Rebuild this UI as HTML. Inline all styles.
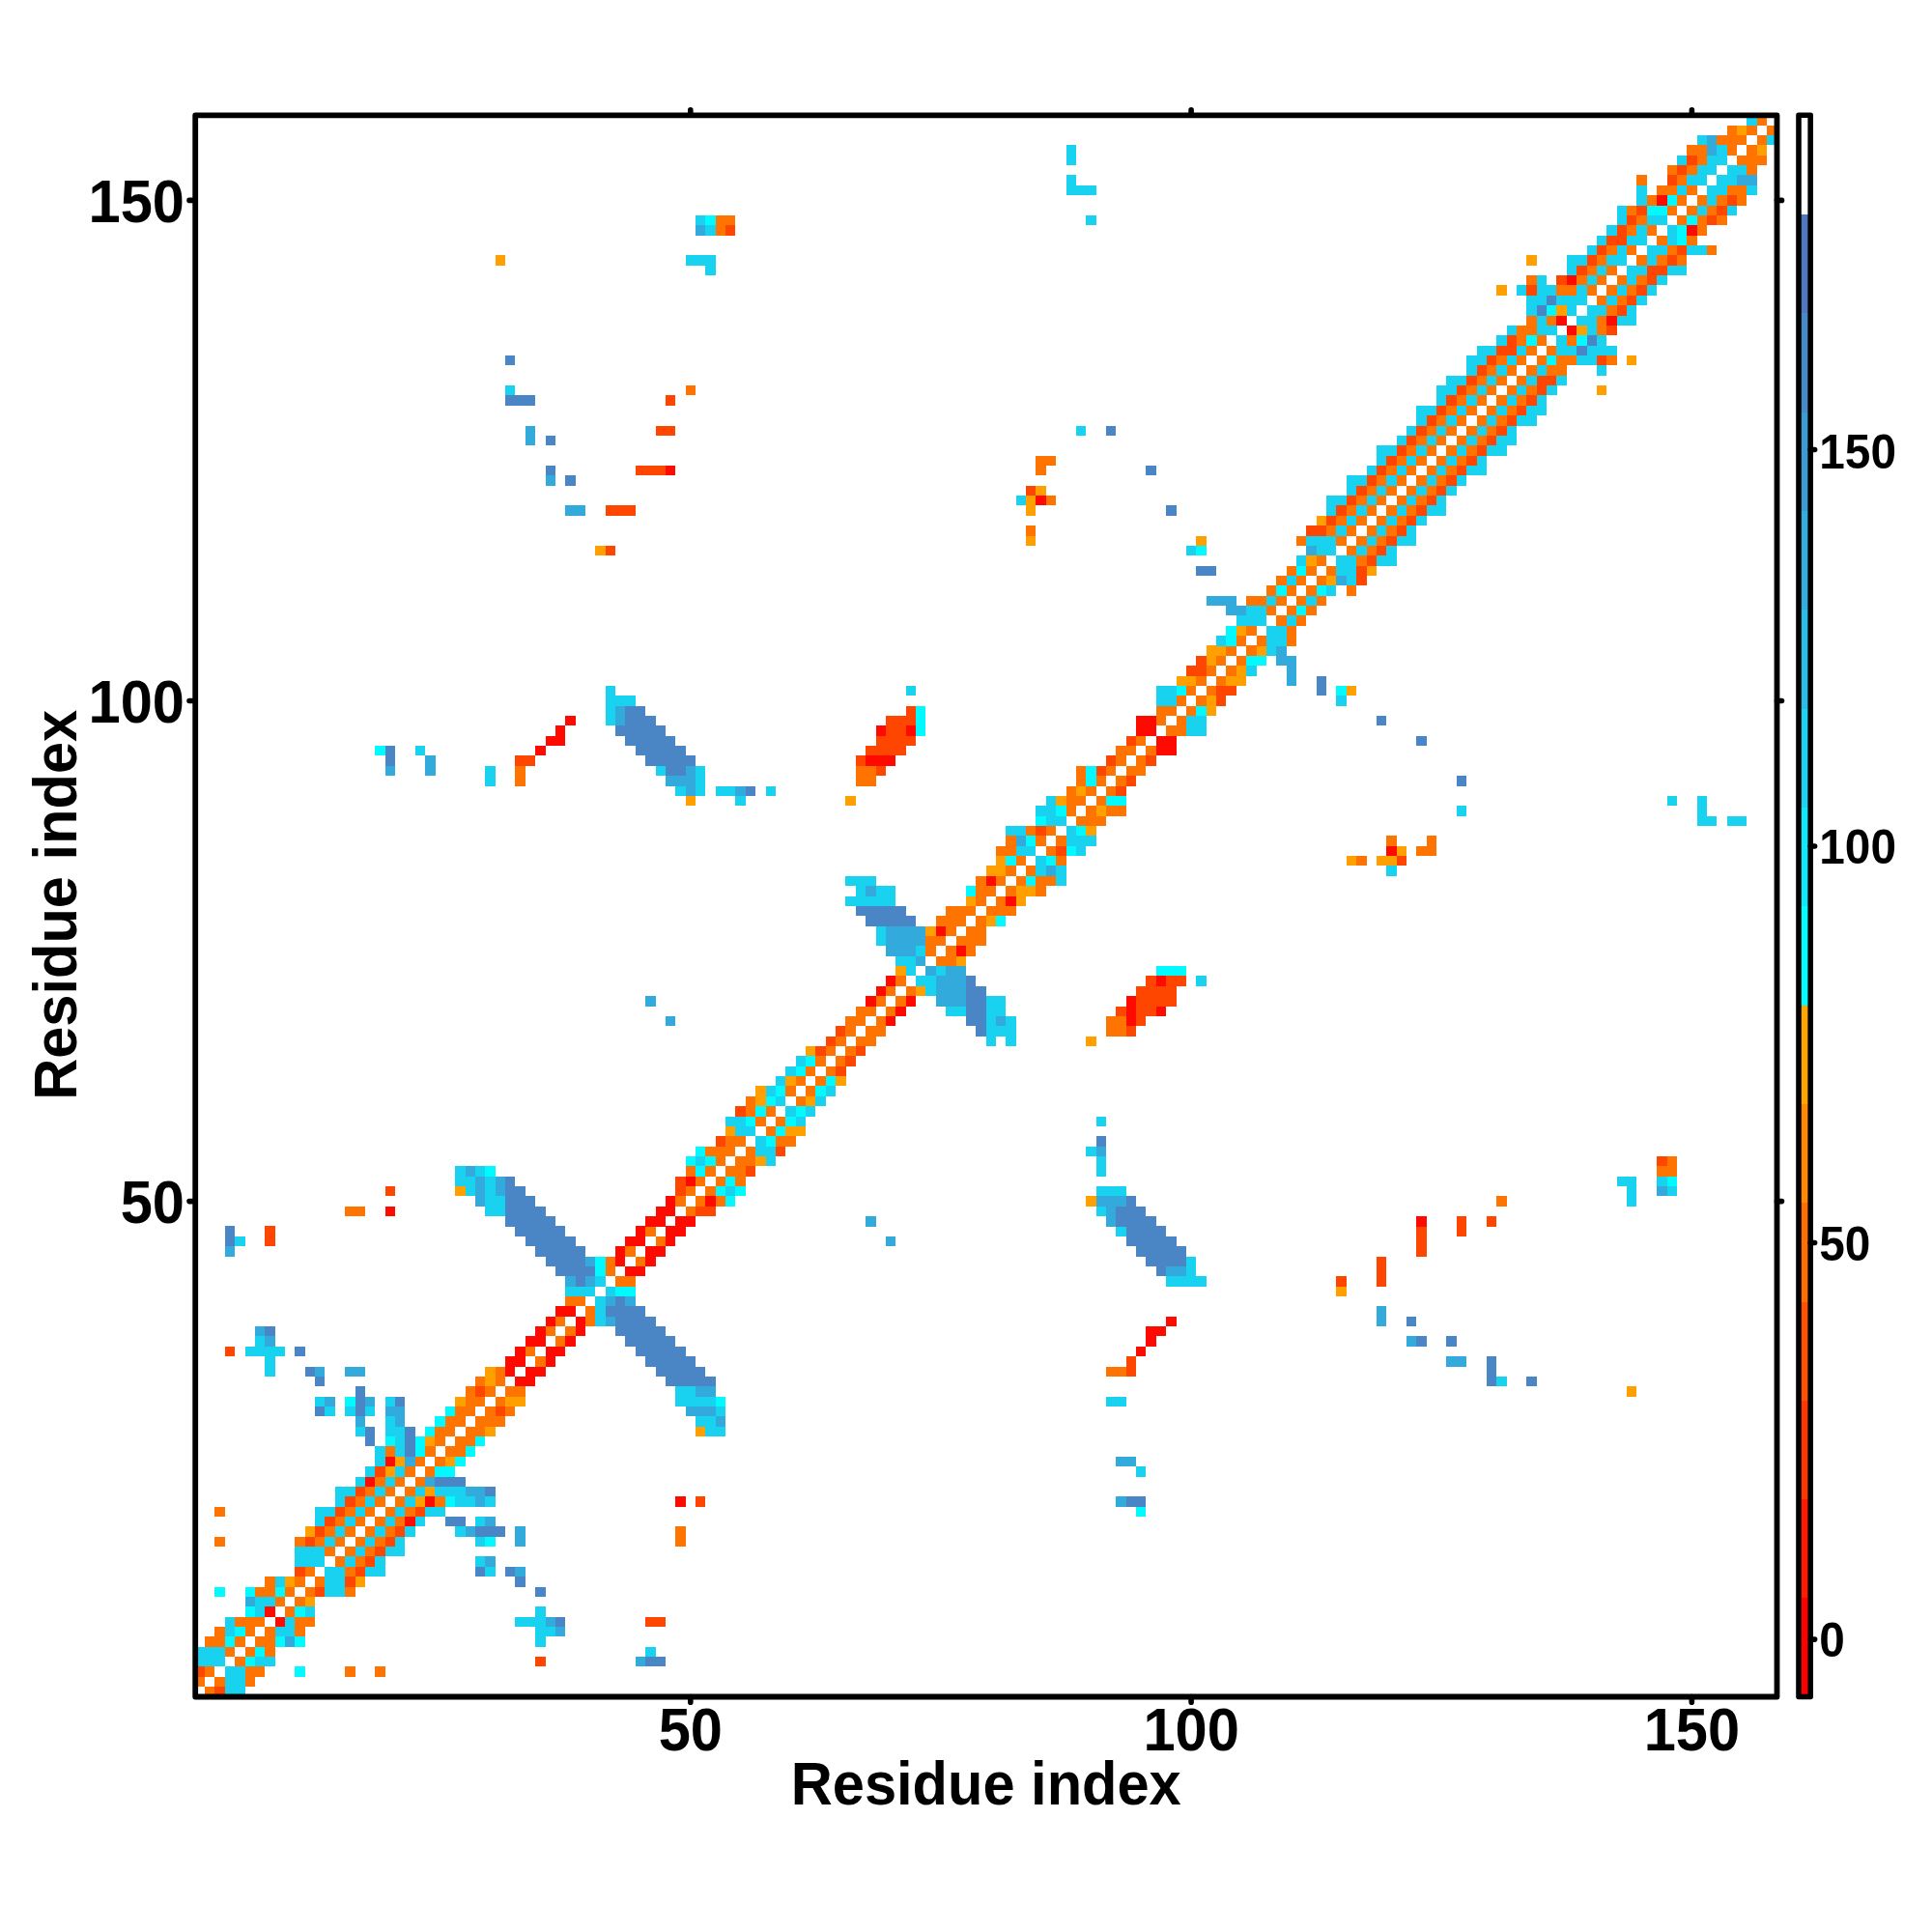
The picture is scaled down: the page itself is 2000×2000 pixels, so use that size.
<!DOCTYPE html>
<html><head><meta charset="utf-8"><style>
html,body{margin:0;padding:0;background:#fff;width:2000px;height:2000px;overflow:hidden}
svg{display:block}
text{font-family:"Liberation Sans",sans-serif;font-weight:bold;fill:#000}
</style></head><body>
<svg width="2000" height="2000" viewBox="0 0 2000 2000" shape-rendering="crispEdges">
<rect x="0" y="0" width="2000" height="2000" fill="#fff"/>
<g>
<rect x="201.70" y="1735.78" width="10.39" height="10.38" fill="#ff7300"/>
<rect x="201.70" y="1725.41" width="10.39" height="10.38" fill="#ff4600"/>
<rect x="201.70" y="1715.05" width="10.39" height="10.38" fill="#19d2f0"/>
<rect x="201.70" y="1704.69" width="10.39" height="10.38" fill="#19d2f0"/>
<rect x="212.07" y="1746.14" width="10.39" height="10.38" fill="#ff7300"/>
<rect x="212.07" y="1725.41" width="10.39" height="10.38" fill="#ff7300"/>
<rect x="212.07" y="1715.05" width="10.39" height="10.38" fill="#19d2f0"/>
<rect x="212.07" y="1704.69" width="10.39" height="10.38" fill="#19d2f0"/>
<rect x="212.07" y="1694.33" width="10.39" height="10.38" fill="#ff7300"/>
<rect x="222.43" y="1746.14" width="10.39" height="10.38" fill="#ff4600"/>
<rect x="222.43" y="1735.78" width="10.39" height="10.38" fill="#ff7300"/>
<rect x="222.43" y="1715.05" width="10.39" height="10.38" fill="#19d2f0"/>
<rect x="222.43" y="1704.69" width="10.39" height="10.38" fill="#19d2f0"/>
<rect x="222.43" y="1694.33" width="10.39" height="10.38" fill="#ff7300"/>
<rect x="222.43" y="1683.97" width="10.39" height="10.38" fill="#ff7300"/>
<rect x="222.43" y="1642.52" width="10.39" height="10.38" fill="#00faff"/>
<rect x="222.43" y="1590.71" width="10.39" height="10.38" fill="#ff7300"/>
<rect x="222.43" y="1559.62" width="10.39" height="10.38" fill="#ff7300"/>
<rect x="232.80" y="1746.14" width="10.39" height="10.38" fill="#19d2f0"/>
<rect x="232.80" y="1735.78" width="10.39" height="10.38" fill="#19d2f0"/>
<rect x="232.80" y="1725.41" width="10.39" height="10.38" fill="#19d2f0"/>
<rect x="232.80" y="1704.69" width="10.39" height="10.38" fill="#ff7300"/>
<rect x="232.80" y="1694.33" width="10.39" height="10.38" fill="#00faff"/>
<rect x="232.80" y="1683.97" width="10.39" height="10.38" fill="#19d2f0"/>
<rect x="232.80" y="1673.60" width="10.39" height="10.38" fill="#19d2f0"/>
<rect x="232.80" y="1393.83" width="10.39" height="10.38" fill="#ff4600"/>
<rect x="232.80" y="1290.21" width="10.39" height="10.38" fill="#32aadc"/>
<rect x="232.80" y="1279.85" width="10.39" height="10.38" fill="#4a86c6"/>
<rect x="232.80" y="1269.49" width="10.39" height="10.38" fill="#4a86c6"/>
<rect x="243.16" y="1746.14" width="10.39" height="10.38" fill="#19d2f0"/>
<rect x="243.16" y="1735.78" width="10.39" height="10.38" fill="#19d2f0"/>
<rect x="243.16" y="1725.41" width="10.39" height="10.38" fill="#19d2f0"/>
<rect x="243.16" y="1715.05" width="10.39" height="10.38" fill="#ff7300"/>
<rect x="243.16" y="1694.33" width="10.39" height="10.38" fill="#ff7300"/>
<rect x="243.16" y="1683.97" width="10.39" height="10.38" fill="#00faff"/>
<rect x="243.16" y="1673.60" width="10.39" height="10.38" fill="#ff7300"/>
<rect x="243.16" y="1279.85" width="10.39" height="10.38" fill="#19d2f0"/>
<rect x="253.53" y="1735.78" width="10.39" height="10.38" fill="#ff7300"/>
<rect x="253.53" y="1725.41" width="10.39" height="10.38" fill="#ff7300"/>
<rect x="253.53" y="1715.05" width="10.39" height="10.38" fill="#00faff"/>
<rect x="253.53" y="1704.69" width="10.39" height="10.38" fill="#ff7300"/>
<rect x="253.53" y="1683.97" width="10.39" height="10.38" fill="#ff7300"/>
<rect x="253.53" y="1673.60" width="10.39" height="10.38" fill="#ff7300"/>
<rect x="253.53" y="1663.24" width="10.39" height="10.38" fill="#00faff"/>
<rect x="253.53" y="1652.88" width="10.39" height="10.38" fill="#32aadc"/>
<rect x="253.53" y="1642.52" width="10.39" height="10.38" fill="#00faff"/>
<rect x="253.53" y="1393.83" width="10.39" height="10.38" fill="#19d2f0"/>
<rect x="263.90" y="1725.41" width="10.39" height="10.38" fill="#ff7300"/>
<rect x="263.90" y="1715.05" width="10.39" height="10.38" fill="#19d2f0"/>
<rect x="263.90" y="1704.69" width="10.39" height="10.38" fill="#00faff"/>
<rect x="263.90" y="1694.33" width="10.39" height="10.38" fill="#ff7300"/>
<rect x="263.90" y="1673.60" width="10.39" height="10.38" fill="#ff7300"/>
<rect x="263.90" y="1663.24" width="10.39" height="10.38" fill="#19d2f0"/>
<rect x="263.90" y="1652.88" width="10.39" height="10.38" fill="#19d2f0"/>
<rect x="263.90" y="1642.52" width="10.39" height="10.38" fill="#ff7300"/>
<rect x="263.90" y="1393.83" width="10.39" height="10.38" fill="#19d2f0"/>
<rect x="263.90" y="1383.47" width="10.39" height="10.38" fill="#19d2f0"/>
<rect x="263.90" y="1373.11" width="10.39" height="10.38" fill="#32aadc"/>
<rect x="274.26" y="1715.05" width="10.39" height="10.38" fill="#19d2f0"/>
<rect x="274.26" y="1704.69" width="10.39" height="10.38" fill="#ff7300"/>
<rect x="274.26" y="1694.33" width="10.39" height="10.38" fill="#ff7300"/>
<rect x="274.26" y="1683.97" width="10.39" height="10.38" fill="#ff7300"/>
<rect x="274.26" y="1663.24" width="10.39" height="10.38" fill="#ff0a00"/>
<rect x="274.26" y="1652.88" width="10.39" height="10.38" fill="#19d2f0"/>
<rect x="274.26" y="1642.52" width="10.39" height="10.38" fill="#ff7300"/>
<rect x="274.26" y="1632.16" width="10.39" height="10.38" fill="#ff7300"/>
<rect x="274.26" y="1414.55" width="10.39" height="10.38" fill="#19d2f0"/>
<rect x="274.26" y="1404.19" width="10.39" height="10.38" fill="#19d2f0"/>
<rect x="274.26" y="1393.83" width="10.39" height="10.38" fill="#19d2f0"/>
<rect x="274.26" y="1383.47" width="10.39" height="10.38" fill="#32aadc"/>
<rect x="274.26" y="1373.11" width="10.39" height="10.38" fill="#4a86c6"/>
<rect x="274.26" y="1279.85" width="10.39" height="10.38" fill="#ff4600"/>
<rect x="274.26" y="1269.49" width="10.39" height="10.38" fill="#ff4600"/>
<rect x="284.63" y="1694.33" width="10.39" height="10.38" fill="#00faff"/>
<rect x="284.63" y="1683.97" width="10.39" height="10.38" fill="#19d2f0"/>
<rect x="284.63" y="1673.60" width="10.39" height="10.38" fill="#ff0a00"/>
<rect x="284.63" y="1652.88" width="10.39" height="10.38" fill="#ff7300"/>
<rect x="284.63" y="1642.52" width="10.39" height="10.38" fill="#00faff"/>
<rect x="284.63" y="1632.16" width="10.39" height="10.38" fill="#19d2f0"/>
<rect x="284.63" y="1393.83" width="10.39" height="10.38" fill="#19d2f0"/>
<rect x="294.99" y="1694.33" width="10.39" height="10.38" fill="#32aadc"/>
<rect x="294.99" y="1683.97" width="10.39" height="10.38" fill="#19d2f0"/>
<rect x="294.99" y="1673.60" width="10.39" height="10.38" fill="#19d2f0"/>
<rect x="294.99" y="1663.24" width="10.39" height="10.38" fill="#ff7300"/>
<rect x="294.99" y="1642.52" width="10.39" height="10.38" fill="#ff7300"/>
<rect x="294.99" y="1632.16" width="10.39" height="10.38" fill="#ffa000"/>
<rect x="305.36" y="1725.41" width="10.39" height="10.38" fill="#00faff"/>
<rect x="305.36" y="1694.33" width="10.39" height="10.38" fill="#00faff"/>
<rect x="305.36" y="1683.97" width="10.39" height="10.38" fill="#ff7300"/>
<rect x="305.36" y="1673.60" width="10.39" height="10.38" fill="#ff7300"/>
<rect x="305.36" y="1663.24" width="10.39" height="10.38" fill="#00faff"/>
<rect x="305.36" y="1652.88" width="10.39" height="10.38" fill="#ff7300"/>
<rect x="305.36" y="1632.16" width="10.39" height="10.38" fill="#ff7300"/>
<rect x="305.36" y="1621.79" width="10.39" height="10.38" fill="#ff4600"/>
<rect x="305.36" y="1611.43" width="10.39" height="10.38" fill="#19d2f0"/>
<rect x="305.36" y="1601.07" width="10.39" height="10.38" fill="#19d2f0"/>
<rect x="305.36" y="1590.71" width="10.39" height="10.38" fill="#ff7300"/>
<rect x="305.36" y="1393.83" width="10.39" height="10.38" fill="#4a86c6"/>
<rect x="315.73" y="1673.60" width="10.39" height="10.38" fill="#ff7300"/>
<rect x="315.73" y="1663.24" width="10.39" height="10.38" fill="#19d2f0"/>
<rect x="315.73" y="1652.88" width="10.39" height="10.38" fill="#ffa000"/>
<rect x="315.73" y="1642.52" width="10.39" height="10.38" fill="#ff7300"/>
<rect x="315.73" y="1621.79" width="10.39" height="10.38" fill="#ff7300"/>
<rect x="315.73" y="1611.43" width="10.39" height="10.38" fill="#19d2f0"/>
<rect x="315.73" y="1601.07" width="10.39" height="10.38" fill="#19d2f0"/>
<rect x="315.73" y="1590.71" width="10.39" height="10.38" fill="#ff4600"/>
<rect x="315.73" y="1580.35" width="10.39" height="10.38" fill="#ffa000"/>
<rect x="315.73" y="1414.55" width="10.39" height="10.38" fill="#4a86c6"/>
<rect x="326.09" y="1642.52" width="10.39" height="10.38" fill="#ff4600"/>
<rect x="326.09" y="1632.16" width="10.39" height="10.38" fill="#ff7300"/>
<rect x="326.09" y="1611.43" width="10.39" height="10.38" fill="#19d2f0"/>
<rect x="326.09" y="1601.07" width="10.39" height="10.38" fill="#19d2f0"/>
<rect x="326.09" y="1590.71" width="10.39" height="10.38" fill="#ff7300"/>
<rect x="326.09" y="1580.35" width="10.39" height="10.38" fill="#ff4600"/>
<rect x="326.09" y="1569.98" width="10.39" height="10.38" fill="#19d2f0"/>
<rect x="326.09" y="1559.62" width="10.39" height="10.38" fill="#19d2f0"/>
<rect x="326.09" y="1456.00" width="10.39" height="10.38" fill="#4a86c6"/>
<rect x="326.09" y="1445.64" width="10.39" height="10.38" fill="#19d2f0"/>
<rect x="326.09" y="1424.92" width="10.39" height="10.38" fill="#4a86c6"/>
<rect x="326.09" y="1414.55" width="10.39" height="10.38" fill="#32aadc"/>
<rect x="336.46" y="1642.52" width="10.39" height="10.38" fill="#19d2f0"/>
<rect x="336.46" y="1632.16" width="10.39" height="10.38" fill="#19d2f0"/>
<rect x="336.46" y="1621.79" width="10.39" height="10.38" fill="#19d2f0"/>
<rect x="336.46" y="1601.07" width="10.39" height="10.38" fill="#ff7300"/>
<rect x="336.46" y="1590.71" width="10.39" height="10.38" fill="#19d2f0"/>
<rect x="336.46" y="1580.35" width="10.39" height="10.38" fill="#ff7300"/>
<rect x="336.46" y="1569.98" width="10.39" height="10.38" fill="#ff4600"/>
<rect x="336.46" y="1559.62" width="10.39" height="10.38" fill="#19d2f0"/>
<rect x="336.46" y="1456.00" width="10.39" height="10.38" fill="#19d2f0"/>
<rect x="336.46" y="1445.64" width="10.39" height="10.38" fill="#32aadc"/>
<rect x="346.82" y="1642.52" width="10.39" height="10.38" fill="#19d2f0"/>
<rect x="346.82" y="1632.16" width="10.39" height="10.38" fill="#19d2f0"/>
<rect x="346.82" y="1621.79" width="10.39" height="10.38" fill="#19d2f0"/>
<rect x="346.82" y="1611.43" width="10.39" height="10.38" fill="#ff7300"/>
<rect x="346.82" y="1590.71" width="10.39" height="10.38" fill="#ff7300"/>
<rect x="346.82" y="1580.35" width="10.39" height="10.38" fill="#19d2f0"/>
<rect x="346.82" y="1569.98" width="10.39" height="10.38" fill="#ff7300"/>
<rect x="346.82" y="1559.62" width="10.39" height="10.38" fill="#ff4600"/>
<rect x="346.82" y="1549.26" width="10.39" height="10.38" fill="#19d2f0"/>
<rect x="346.82" y="1538.90" width="10.39" height="10.38" fill="#19d2f0"/>
<rect x="357.19" y="1725.41" width="10.39" height="10.38" fill="#ff7300"/>
<rect x="357.19" y="1642.52" width="10.39" height="10.38" fill="#ff7300"/>
<rect x="357.19" y="1632.16" width="10.39" height="10.38" fill="#ff4600"/>
<rect x="357.19" y="1621.79" width="10.39" height="10.38" fill="#ff7300"/>
<rect x="357.19" y="1611.43" width="10.39" height="10.38" fill="#19d2f0"/>
<rect x="357.19" y="1601.07" width="10.39" height="10.38" fill="#ff7300"/>
<rect x="357.19" y="1580.35" width="10.39" height="10.38" fill="#ff7300"/>
<rect x="357.19" y="1569.98" width="10.39" height="10.38" fill="#19d2f0"/>
<rect x="357.19" y="1559.62" width="10.39" height="10.38" fill="#ff7300"/>
<rect x="357.19" y="1549.26" width="10.39" height="10.38" fill="#ff4600"/>
<rect x="357.19" y="1538.90" width="10.39" height="10.38" fill="#19d2f0"/>
<rect x="357.19" y="1456.00" width="10.39" height="10.38" fill="#19d2f0"/>
<rect x="357.19" y="1445.64" width="10.39" height="10.38" fill="#00faff"/>
<rect x="357.19" y="1414.55" width="10.39" height="10.38" fill="#32aadc"/>
<rect x="357.19" y="1248.76" width="10.39" height="10.38" fill="#ff7300"/>
<rect x="367.56" y="1632.16" width="10.39" height="10.38" fill="#ffa000"/>
<rect x="367.56" y="1621.79" width="10.39" height="10.38" fill="#ff4600"/>
<rect x="367.56" y="1611.43" width="10.39" height="10.38" fill="#ff7300"/>
<rect x="367.56" y="1601.07" width="10.39" height="10.38" fill="#19d2f0"/>
<rect x="367.56" y="1590.71" width="10.39" height="10.38" fill="#ff7300"/>
<rect x="367.56" y="1569.98" width="10.39" height="10.38" fill="#ff7300"/>
<rect x="367.56" y="1559.62" width="10.39" height="10.38" fill="#19d2f0"/>
<rect x="367.56" y="1549.26" width="10.39" height="10.38" fill="#ff7300"/>
<rect x="367.56" y="1538.90" width="10.39" height="10.38" fill="#ff4600"/>
<rect x="367.56" y="1528.54" width="10.39" height="10.38" fill="#19d2f0"/>
<rect x="367.56" y="1476.73" width="10.39" height="10.38" fill="#19d2f0"/>
<rect x="367.56" y="1466.36" width="10.39" height="10.38" fill="#32aadc"/>
<rect x="367.56" y="1456.00" width="10.39" height="10.38" fill="#4a86c6"/>
<rect x="367.56" y="1445.64" width="10.39" height="10.38" fill="#4a86c6"/>
<rect x="367.56" y="1435.28" width="10.39" height="10.38" fill="#4a86c6"/>
<rect x="367.56" y="1414.55" width="10.39" height="10.38" fill="#32aadc"/>
<rect x="367.56" y="1248.76" width="10.39" height="10.38" fill="#ff7300"/>
<rect x="377.92" y="1621.79" width="10.39" height="10.38" fill="#19d2f0"/>
<rect x="377.92" y="1611.43" width="10.39" height="10.38" fill="#ff4600"/>
<rect x="377.92" y="1601.07" width="10.39" height="10.38" fill="#ff7300"/>
<rect x="377.92" y="1590.71" width="10.39" height="10.38" fill="#19d2f0"/>
<rect x="377.92" y="1580.35" width="10.39" height="10.38" fill="#ff7300"/>
<rect x="377.92" y="1559.62" width="10.39" height="10.38" fill="#ff7300"/>
<rect x="377.92" y="1549.26" width="10.39" height="10.38" fill="#19d2f0"/>
<rect x="377.92" y="1538.90" width="10.39" height="10.38" fill="#ff7300"/>
<rect x="377.92" y="1528.54" width="10.39" height="10.38" fill="#ff0a00"/>
<rect x="377.92" y="1518.17" width="10.39" height="10.38" fill="#19d2f0"/>
<rect x="377.92" y="1487.09" width="10.39" height="10.38" fill="#4a86c6"/>
<rect x="377.92" y="1476.73" width="10.39" height="10.38" fill="#4a86c6"/>
<rect x="377.92" y="1456.00" width="10.39" height="10.38" fill="#19d2f0"/>
<rect x="377.92" y="1445.64" width="10.39" height="10.38" fill="#32aadc"/>
<rect x="388.29" y="1725.41" width="10.39" height="10.38" fill="#ff7300"/>
<rect x="388.29" y="1621.79" width="10.39" height="10.38" fill="#19d2f0"/>
<rect x="388.29" y="1611.43" width="10.39" height="10.38" fill="#19d2f0"/>
<rect x="388.29" y="1601.07" width="10.39" height="10.38" fill="#ff4600"/>
<rect x="388.29" y="1590.71" width="10.39" height="10.38" fill="#ff7300"/>
<rect x="388.29" y="1580.35" width="10.39" height="10.38" fill="#19d2f0"/>
<rect x="388.29" y="1569.98" width="10.39" height="10.38" fill="#ff7300"/>
<rect x="388.29" y="1549.26" width="10.39" height="10.38" fill="#ff7300"/>
<rect x="388.29" y="1538.90" width="10.39" height="10.38" fill="#19d2f0"/>
<rect x="388.29" y="1528.54" width="10.39" height="10.38" fill="#ff7300"/>
<rect x="388.29" y="1518.17" width="10.39" height="10.38" fill="#ff4600"/>
<rect x="388.29" y="1507.81" width="10.39" height="10.38" fill="#19d2f0"/>
<rect x="388.29" y="1497.45" width="10.39" height="10.38" fill="#19d2f0"/>
<rect x="388.29" y="772.11" width="10.39" height="10.38" fill="#00faff"/>
<rect x="398.65" y="1601.07" width="10.39" height="10.38" fill="#19d2f0"/>
<rect x="398.65" y="1590.71" width="10.39" height="10.38" fill="#ff4600"/>
<rect x="398.65" y="1580.35" width="10.39" height="10.38" fill="#ff7300"/>
<rect x="398.65" y="1569.98" width="10.39" height="10.38" fill="#19d2f0"/>
<rect x="398.65" y="1559.62" width="10.39" height="10.38" fill="#ff7300"/>
<rect x="398.65" y="1538.90" width="10.39" height="10.38" fill="#ff7300"/>
<rect x="398.65" y="1528.54" width="10.39" height="10.38" fill="#19d2f0"/>
<rect x="398.65" y="1518.17" width="10.39" height="10.38" fill="#ffa000"/>
<rect x="398.65" y="1507.81" width="10.39" height="10.38" fill="#ff0a00"/>
<rect x="398.65" y="1497.45" width="10.39" height="10.38" fill="#ff7300"/>
<rect x="398.65" y="1487.09" width="10.39" height="10.38" fill="#00faff"/>
<rect x="398.65" y="1476.73" width="10.39" height="10.38" fill="#19d2f0"/>
<rect x="398.65" y="1466.36" width="10.39" height="10.38" fill="#19d2f0"/>
<rect x="398.65" y="1456.00" width="10.39" height="10.38" fill="#32aadc"/>
<rect x="398.65" y="1445.64" width="10.39" height="10.38" fill="#19d2f0"/>
<rect x="398.65" y="1248.76" width="10.39" height="10.38" fill="#ff0a00"/>
<rect x="398.65" y="1228.04" width="10.39" height="10.38" fill="#ff4600"/>
<rect x="398.65" y="792.83" width="10.39" height="10.38" fill="#32aadc"/>
<rect x="398.65" y="782.47" width="10.39" height="10.38" fill="#4a86c6"/>
<rect x="398.65" y="772.11" width="10.39" height="10.38" fill="#4a86c6"/>
<rect x="409.02" y="1601.07" width="10.39" height="10.38" fill="#19d2f0"/>
<rect x="409.02" y="1590.71" width="10.39" height="10.38" fill="#19d2f0"/>
<rect x="409.02" y="1580.35" width="10.39" height="10.38" fill="#ff4600"/>
<rect x="409.02" y="1569.98" width="10.39" height="10.38" fill="#ff7300"/>
<rect x="409.02" y="1559.62" width="10.39" height="10.38" fill="#19d2f0"/>
<rect x="409.02" y="1549.26" width="10.39" height="10.38" fill="#ff7300"/>
<rect x="409.02" y="1528.54" width="10.39" height="10.38" fill="#ff7300"/>
<rect x="409.02" y="1518.17" width="10.39" height="10.38" fill="#19d2f0"/>
<rect x="409.02" y="1507.81" width="10.39" height="10.38" fill="#ffa000"/>
<rect x="409.02" y="1497.45" width="10.39" height="10.38" fill="#19d2f0"/>
<rect x="409.02" y="1487.09" width="10.39" height="10.38" fill="#19d2f0"/>
<rect x="409.02" y="1476.73" width="10.39" height="10.38" fill="#19d2f0"/>
<rect x="409.02" y="1466.36" width="10.39" height="10.38" fill="#32aadc"/>
<rect x="409.02" y="1456.00" width="10.39" height="10.38" fill="#32aadc"/>
<rect x="409.02" y="1445.64" width="10.39" height="10.38" fill="#4a86c6"/>
<rect x="419.39" y="1580.35" width="10.39" height="10.38" fill="#19d2f0"/>
<rect x="419.39" y="1569.98" width="10.39" height="10.38" fill="#ff0a00"/>
<rect x="419.39" y="1559.62" width="10.39" height="10.38" fill="#ff7300"/>
<rect x="419.39" y="1549.26" width="10.39" height="10.38" fill="#19d2f0"/>
<rect x="419.39" y="1538.90" width="10.39" height="10.38" fill="#ff7300"/>
<rect x="419.39" y="1518.17" width="10.39" height="10.38" fill="#ff7300"/>
<rect x="419.39" y="1507.81" width="10.39" height="10.38" fill="#32aadc"/>
<rect x="419.39" y="1497.45" width="10.39" height="10.38" fill="#4a86c6"/>
<rect x="419.39" y="1487.09" width="10.39" height="10.38" fill="#4a86c6"/>
<rect x="419.39" y="1476.73" width="10.39" height="10.38" fill="#4a86c6"/>
<rect x="429.75" y="1569.98" width="10.39" height="10.38" fill="#19d2f0"/>
<rect x="429.75" y="1559.62" width="10.39" height="10.38" fill="#ff4600"/>
<rect x="429.75" y="1549.26" width="10.39" height="10.38" fill="#ffa000"/>
<rect x="429.75" y="1538.90" width="10.39" height="10.38" fill="#19d2f0"/>
<rect x="429.75" y="1528.54" width="10.39" height="10.38" fill="#ff7300"/>
<rect x="429.75" y="1507.81" width="10.39" height="10.38" fill="#ff7300"/>
<rect x="429.75" y="1497.45" width="10.39" height="10.38" fill="#00faff"/>
<rect x="429.75" y="1487.09" width="10.39" height="10.38" fill="#00faff"/>
<rect x="429.75" y="772.11" width="10.39" height="10.38" fill="#19d2f0"/>
<rect x="440.12" y="1559.62" width="10.39" height="10.38" fill="#19d2f0"/>
<rect x="440.12" y="1549.26" width="10.39" height="10.38" fill="#ff0a00"/>
<rect x="440.12" y="1538.90" width="10.39" height="10.38" fill="#ffa000"/>
<rect x="440.12" y="1528.54" width="10.39" height="10.38" fill="#32aadc"/>
<rect x="440.12" y="1518.17" width="10.39" height="10.38" fill="#ff7300"/>
<rect x="440.12" y="1497.45" width="10.39" height="10.38" fill="#ff7300"/>
<rect x="440.12" y="1487.09" width="10.39" height="10.38" fill="#ffa000"/>
<rect x="440.12" y="1476.73" width="10.39" height="10.38" fill="#00faff"/>
<rect x="440.12" y="792.83" width="10.39" height="10.38" fill="#32aadc"/>
<rect x="440.12" y="782.47" width="10.39" height="10.38" fill="#32aadc"/>
<rect x="450.48" y="1559.62" width="10.39" height="10.38" fill="#19d2f0"/>
<rect x="450.48" y="1549.26" width="10.39" height="10.38" fill="#ff7300"/>
<rect x="450.48" y="1538.90" width="10.39" height="10.38" fill="#19d2f0"/>
<rect x="450.48" y="1528.54" width="10.39" height="10.38" fill="#4a86c6"/>
<rect x="450.48" y="1518.17" width="10.39" height="10.38" fill="#00faff"/>
<rect x="450.48" y="1507.81" width="10.39" height="10.38" fill="#ff7300"/>
<rect x="450.48" y="1487.09" width="10.39" height="10.38" fill="#ff7300"/>
<rect x="450.48" y="1476.73" width="10.39" height="10.38" fill="#ff7300"/>
<rect x="450.48" y="1466.36" width="10.39" height="10.38" fill="#00faff"/>
<rect x="460.85" y="1569.98" width="10.39" height="10.38" fill="#4a86c6"/>
<rect x="460.85" y="1549.26" width="10.39" height="10.38" fill="#00faff"/>
<rect x="460.85" y="1538.90" width="10.39" height="10.38" fill="#19d2f0"/>
<rect x="460.85" y="1528.54" width="10.39" height="10.38" fill="#4a86c6"/>
<rect x="460.85" y="1518.17" width="10.39" height="10.38" fill="#00faff"/>
<rect x="460.85" y="1507.81" width="10.39" height="10.38" fill="#ffa000"/>
<rect x="460.85" y="1497.45" width="10.39" height="10.38" fill="#ff7300"/>
<rect x="460.85" y="1476.73" width="10.39" height="10.38" fill="#ff7300"/>
<rect x="460.85" y="1466.36" width="10.39" height="10.38" fill="#ff7300"/>
<rect x="460.85" y="1456.00" width="10.39" height="10.38" fill="#00faff"/>
<rect x="471.22" y="1580.35" width="10.39" height="10.38" fill="#19d2f0"/>
<rect x="471.22" y="1569.98" width="10.39" height="10.38" fill="#4a86c6"/>
<rect x="471.22" y="1549.26" width="10.39" height="10.38" fill="#19d2f0"/>
<rect x="471.22" y="1538.90" width="10.39" height="10.38" fill="#19d2f0"/>
<rect x="471.22" y="1528.54" width="10.39" height="10.38" fill="#4a86c6"/>
<rect x="471.22" y="1507.81" width="10.39" height="10.38" fill="#00faff"/>
<rect x="471.22" y="1497.45" width="10.39" height="10.38" fill="#ff7300"/>
<rect x="471.22" y="1487.09" width="10.39" height="10.38" fill="#ff7300"/>
<rect x="471.22" y="1466.36" width="10.39" height="10.38" fill="#ff7300"/>
<rect x="471.22" y="1456.00" width="10.39" height="10.38" fill="#ff7300"/>
<rect x="471.22" y="1445.64" width="10.39" height="10.38" fill="#ffa000"/>
<rect x="471.22" y="1228.04" width="10.39" height="10.38" fill="#ffa000"/>
<rect x="471.22" y="1217.68" width="10.39" height="10.38" fill="#19d2f0"/>
<rect x="471.22" y="1207.31" width="10.39" height="10.38" fill="#19d2f0"/>
<rect x="481.58" y="1580.35" width="10.39" height="10.38" fill="#32aadc"/>
<rect x="481.58" y="1549.26" width="10.39" height="10.38" fill="#19d2f0"/>
<rect x="481.58" y="1538.90" width="10.39" height="10.38" fill="#32aadc"/>
<rect x="481.58" y="1497.45" width="10.39" height="10.38" fill="#00faff"/>
<rect x="481.58" y="1487.09" width="10.39" height="10.38" fill="#ff7300"/>
<rect x="481.58" y="1476.73" width="10.39" height="10.38" fill="#ff7300"/>
<rect x="481.58" y="1456.00" width="10.39" height="10.38" fill="#ff7300"/>
<rect x="481.58" y="1445.64" width="10.39" height="10.38" fill="#ff7300"/>
<rect x="481.58" y="1435.28" width="10.39" height="10.38" fill="#ff7300"/>
<rect x="481.58" y="1228.04" width="10.39" height="10.38" fill="#19d2f0"/>
<rect x="481.58" y="1217.68" width="10.39" height="10.38" fill="#19d2f0"/>
<rect x="481.58" y="1207.31" width="10.39" height="10.38" fill="#32aadc"/>
<rect x="491.95" y="1621.79" width="10.39" height="10.38" fill="#4a86c6"/>
<rect x="491.95" y="1611.43" width="10.39" height="10.38" fill="#19d2f0"/>
<rect x="491.95" y="1590.71" width="10.39" height="10.38" fill="#19d2f0"/>
<rect x="491.95" y="1580.35" width="10.39" height="10.38" fill="#4a86c6"/>
<rect x="491.95" y="1569.98" width="10.39" height="10.38" fill="#19d2f0"/>
<rect x="491.95" y="1549.26" width="10.39" height="10.38" fill="#32aadc"/>
<rect x="491.95" y="1538.90" width="10.39" height="10.38" fill="#32aadc"/>
<rect x="491.95" y="1487.09" width="10.39" height="10.38" fill="#00faff"/>
<rect x="491.95" y="1476.73" width="10.39" height="10.38" fill="#ff7300"/>
<rect x="491.95" y="1466.36" width="10.39" height="10.38" fill="#ff7300"/>
<rect x="491.95" y="1445.64" width="10.39" height="10.38" fill="#ff7300"/>
<rect x="491.95" y="1435.28" width="10.39" height="10.38" fill="#ff4600"/>
<rect x="491.95" y="1424.92" width="10.39" height="10.38" fill="#ff7300"/>
<rect x="491.95" y="1238.40" width="10.39" height="10.38" fill="#32aadc"/>
<rect x="491.95" y="1228.04" width="10.39" height="10.38" fill="#32aadc"/>
<rect x="491.95" y="1217.68" width="10.39" height="10.38" fill="#32aadc"/>
<rect x="491.95" y="1207.31" width="10.39" height="10.38" fill="#19d2f0"/>
<rect x="502.31" y="1621.79" width="10.39" height="10.38" fill="#19d2f0"/>
<rect x="502.31" y="1611.43" width="10.39" height="10.38" fill="#32aadc"/>
<rect x="502.31" y="1590.71" width="10.39" height="10.38" fill="#00faff"/>
<rect x="502.31" y="1580.35" width="10.39" height="10.38" fill="#4a86c6"/>
<rect x="502.31" y="1569.98" width="10.39" height="10.38" fill="#32aadc"/>
<rect x="502.31" y="1549.26" width="10.39" height="10.38" fill="#19d2f0"/>
<rect x="502.31" y="1538.90" width="10.39" height="10.38" fill="#4a86c6"/>
<rect x="502.31" y="1476.73" width="10.39" height="10.38" fill="#ffa000"/>
<rect x="502.31" y="1466.36" width="10.39" height="10.38" fill="#ff7300"/>
<rect x="502.31" y="1456.00" width="10.39" height="10.38" fill="#ff7300"/>
<rect x="502.31" y="1435.28" width="10.39" height="10.38" fill="#ff7300"/>
<rect x="502.31" y="1424.92" width="10.39" height="10.38" fill="#ffa000"/>
<rect x="502.31" y="1414.55" width="10.39" height="10.38" fill="#ffa000"/>
<rect x="502.31" y="1248.76" width="10.39" height="10.38" fill="#19d2f0"/>
<rect x="502.31" y="1238.40" width="10.39" height="10.38" fill="#19d2f0"/>
<rect x="502.31" y="1228.04" width="10.39" height="10.38" fill="#19d2f0"/>
<rect x="502.31" y="1217.68" width="10.39" height="10.38" fill="#19d2f0"/>
<rect x="502.31" y="1207.31" width="10.39" height="10.38" fill="#00faff"/>
<rect x="502.31" y="803.20" width="10.39" height="10.38" fill="#19d2f0"/>
<rect x="502.31" y="792.83" width="10.39" height="10.38" fill="#19d2f0"/>
<rect x="512.68" y="1580.35" width="10.39" height="10.38" fill="#4a86c6"/>
<rect x="512.68" y="1466.36" width="10.39" height="10.38" fill="#ff7300"/>
<rect x="512.68" y="1456.00" width="10.39" height="10.38" fill="#ff4600"/>
<rect x="512.68" y="1445.64" width="10.39" height="10.38" fill="#ff7300"/>
<rect x="512.68" y="1424.92" width="10.39" height="10.38" fill="#ff7300"/>
<rect x="512.68" y="1414.55" width="10.39" height="10.38" fill="#ff7300"/>
<rect x="512.68" y="1248.76" width="10.39" height="10.38" fill="#19d2f0"/>
<rect x="512.68" y="1238.40" width="10.39" height="10.38" fill="#19d2f0"/>
<rect x="512.68" y="1228.04" width="10.39" height="10.38" fill="#32aadc"/>
<rect x="512.68" y="1217.68" width="10.39" height="10.38" fill="#32aadc"/>
<rect x="512.68" y="264.37" width="10.39" height="10.38" fill="#ffa000"/>
<rect x="523.05" y="1621.79" width="10.39" height="10.38" fill="#4a86c6"/>
<rect x="523.05" y="1456.00" width="10.39" height="10.38" fill="#ff7300"/>
<rect x="523.05" y="1445.64" width="10.39" height="10.38" fill="#ffa000"/>
<rect x="523.05" y="1435.28" width="10.39" height="10.38" fill="#ff7300"/>
<rect x="523.05" y="1414.55" width="10.39" height="10.38" fill="#ff0a00"/>
<rect x="523.05" y="1404.19" width="10.39" height="10.38" fill="#ff0a00"/>
<rect x="523.05" y="1259.12" width="10.39" height="10.38" fill="#4a86c6"/>
<rect x="523.05" y="1248.76" width="10.39" height="10.38" fill="#4a86c6"/>
<rect x="523.05" y="1238.40" width="10.39" height="10.38" fill="#4a86c6"/>
<rect x="523.05" y="1228.04" width="10.39" height="10.38" fill="#4a86c6"/>
<rect x="523.05" y="1217.68" width="10.39" height="10.38" fill="#4a86c6"/>
<rect x="523.05" y="409.44" width="10.39" height="10.38" fill="#4a86c6"/>
<rect x="523.05" y="399.08" width="10.39" height="10.38" fill="#19d2f0"/>
<rect x="523.05" y="367.99" width="10.39" height="10.38" fill="#4a86c6"/>
<rect x="533.41" y="1673.60" width="10.39" height="10.38" fill="#19d2f0"/>
<rect x="533.41" y="1632.16" width="10.39" height="10.38" fill="#4a86c6"/>
<rect x="533.41" y="1621.79" width="10.39" height="10.38" fill="#32aadc"/>
<rect x="533.41" y="1590.71" width="10.39" height="10.38" fill="#32aadc"/>
<rect x="533.41" y="1580.35" width="10.39" height="10.38" fill="#32aadc"/>
<rect x="533.41" y="1445.64" width="10.39" height="10.38" fill="#ffa000"/>
<rect x="533.41" y="1435.28" width="10.39" height="10.38" fill="#ff7300"/>
<rect x="533.41" y="1424.92" width="10.39" height="10.38" fill="#ff0a00"/>
<rect x="533.41" y="1404.19" width="10.39" height="10.38" fill="#ff0a00"/>
<rect x="533.41" y="1393.83" width="10.39" height="10.38" fill="#ff0a00"/>
<rect x="533.41" y="1269.49" width="10.39" height="10.38" fill="#4a86c6"/>
<rect x="533.41" y="1259.12" width="10.39" height="10.38" fill="#4a86c6"/>
<rect x="533.41" y="1248.76" width="10.39" height="10.38" fill="#4a86c6"/>
<rect x="533.41" y="1238.40" width="10.39" height="10.38" fill="#4a86c6"/>
<rect x="533.41" y="1228.04" width="10.39" height="10.38" fill="#4a86c6"/>
<rect x="533.41" y="803.20" width="10.39" height="10.38" fill="#ff7300"/>
<rect x="533.41" y="792.83" width="10.39" height="10.38" fill="#ff7300"/>
<rect x="533.41" y="782.47" width="10.39" height="10.38" fill="#ff4600"/>
<rect x="533.41" y="409.44" width="10.39" height="10.38" fill="#4a86c6"/>
<rect x="543.78" y="1673.60" width="10.39" height="10.38" fill="#19d2f0"/>
<rect x="543.78" y="1424.92" width="10.39" height="10.38" fill="#ff0a00"/>
<rect x="543.78" y="1414.55" width="10.39" height="10.38" fill="#ff0a00"/>
<rect x="543.78" y="1393.83" width="10.39" height="10.38" fill="#ff7300"/>
<rect x="543.78" y="1383.47" width="10.39" height="10.38" fill="#ff0a00"/>
<rect x="543.78" y="1279.85" width="10.39" height="10.38" fill="#4a86c6"/>
<rect x="543.78" y="1269.49" width="10.39" height="10.38" fill="#4a86c6"/>
<rect x="543.78" y="1259.12" width="10.39" height="10.38" fill="#4a86c6"/>
<rect x="543.78" y="1248.76" width="10.39" height="10.38" fill="#4a86c6"/>
<rect x="543.78" y="1238.40" width="10.39" height="10.38" fill="#4a86c6"/>
<rect x="543.78" y="782.47" width="10.39" height="10.38" fill="#ff4600"/>
<rect x="543.78" y="450.89" width="10.39" height="10.38" fill="#32aadc"/>
<rect x="543.78" y="440.53" width="10.39" height="10.38" fill="#32aadc"/>
<rect x="543.78" y="409.44" width="10.39" height="10.38" fill="#4a86c6"/>
<rect x="554.14" y="1715.05" width="10.39" height="10.38" fill="#ff4600"/>
<rect x="554.14" y="1694.33" width="10.39" height="10.38" fill="#19d2f0"/>
<rect x="554.14" y="1683.97" width="10.39" height="10.38" fill="#19d2f0"/>
<rect x="554.14" y="1673.60" width="10.39" height="10.38" fill="#19d2f0"/>
<rect x="554.14" y="1663.24" width="10.39" height="10.38" fill="#19d2f0"/>
<rect x="554.14" y="1642.52" width="10.39" height="10.38" fill="#4a86c6"/>
<rect x="554.14" y="1414.55" width="10.39" height="10.38" fill="#ff0a00"/>
<rect x="554.14" y="1404.19" width="10.39" height="10.38" fill="#ff7300"/>
<rect x="554.14" y="1383.47" width="10.39" height="10.38" fill="#ff0a00"/>
<rect x="554.14" y="1373.11" width="10.39" height="10.38" fill="#ff0a00"/>
<rect x="554.14" y="1290.21" width="10.39" height="10.38" fill="#4a86c6"/>
<rect x="554.14" y="1279.85" width="10.39" height="10.38" fill="#4a86c6"/>
<rect x="554.14" y="1269.49" width="10.39" height="10.38" fill="#4a86c6"/>
<rect x="554.14" y="1259.12" width="10.39" height="10.38" fill="#4a86c6"/>
<rect x="554.14" y="1248.76" width="10.39" height="10.38" fill="#4a86c6"/>
<rect x="554.14" y="772.11" width="10.39" height="10.38" fill="#ff0a00"/>
<rect x="564.51" y="1683.97" width="10.39" height="10.38" fill="#19d2f0"/>
<rect x="564.51" y="1673.60" width="10.39" height="10.38" fill="#32aadc"/>
<rect x="564.51" y="1404.19" width="10.39" height="10.38" fill="#ff0a00"/>
<rect x="564.51" y="1393.83" width="10.39" height="10.38" fill="#ff0a00"/>
<rect x="564.51" y="1373.11" width="10.39" height="10.38" fill="#ff7300"/>
<rect x="564.51" y="1362.74" width="10.39" height="10.38" fill="#ff0a00"/>
<rect x="564.51" y="1300.57" width="10.39" height="10.38" fill="#4a86c6"/>
<rect x="564.51" y="1290.21" width="10.39" height="10.38" fill="#4a86c6"/>
<rect x="564.51" y="1279.85" width="10.39" height="10.38" fill="#4a86c6"/>
<rect x="564.51" y="1269.49" width="10.39" height="10.38" fill="#4a86c6"/>
<rect x="564.51" y="1259.12" width="10.39" height="10.38" fill="#4a86c6"/>
<rect x="564.51" y="761.75" width="10.39" height="10.38" fill="#ff0a00"/>
<rect x="564.51" y="492.34" width="10.39" height="10.38" fill="#32aadc"/>
<rect x="564.51" y="481.97" width="10.39" height="10.38" fill="#4a86c6"/>
<rect x="564.51" y="450.89" width="10.39" height="10.38" fill="#4a86c6"/>
<rect x="574.88" y="1683.97" width="10.39" height="10.38" fill="#32aadc"/>
<rect x="574.88" y="1673.60" width="10.39" height="10.38" fill="#4a86c6"/>
<rect x="574.88" y="1393.83" width="10.39" height="10.38" fill="#ff0a00"/>
<rect x="574.88" y="1383.47" width="10.39" height="10.38" fill="#ff7300"/>
<rect x="574.88" y="1362.74" width="10.39" height="10.38" fill="#ff7300"/>
<rect x="574.88" y="1352.38" width="10.39" height="10.38" fill="#ff0a00"/>
<rect x="574.88" y="1310.93" width="10.39" height="10.38" fill="#4a86c6"/>
<rect x="574.88" y="1300.57" width="10.39" height="10.38" fill="#4a86c6"/>
<rect x="574.88" y="1290.21" width="10.39" height="10.38" fill="#4a86c6"/>
<rect x="574.88" y="1279.85" width="10.39" height="10.38" fill="#4a86c6"/>
<rect x="574.88" y="1269.49" width="10.39" height="10.38" fill="#4a86c6"/>
<rect x="574.88" y="761.75" width="10.39" height="10.38" fill="#ff0a00"/>
<rect x="574.88" y="751.39" width="10.39" height="10.38" fill="#ff0a00"/>
<rect x="585.24" y="1383.47" width="10.39" height="10.38" fill="#ff0a00"/>
<rect x="585.24" y="1373.11" width="10.39" height="10.38" fill="#ff7300"/>
<rect x="585.24" y="1352.38" width="10.39" height="10.38" fill="#ff0a00"/>
<rect x="585.24" y="1342.02" width="10.39" height="10.38" fill="#ff7300"/>
<rect x="585.24" y="1331.66" width="10.39" height="10.38" fill="#19d2f0"/>
<rect x="585.24" y="1321.30" width="10.39" height="10.38" fill="#32aadc"/>
<rect x="585.24" y="1310.93" width="10.39" height="10.38" fill="#4a86c6"/>
<rect x="585.24" y="1300.57" width="10.39" height="10.38" fill="#4a86c6"/>
<rect x="585.24" y="1290.21" width="10.39" height="10.38" fill="#4a86c6"/>
<rect x="585.24" y="1279.85" width="10.39" height="10.38" fill="#4a86c6"/>
<rect x="585.24" y="741.02" width="10.39" height="10.38" fill="#ff0a00"/>
<rect x="585.24" y="523.42" width="10.39" height="10.38" fill="#32aadc"/>
<rect x="585.24" y="492.34" width="10.39" height="10.38" fill="#4a86c6"/>
<rect x="595.61" y="1373.11" width="10.39" height="10.38" fill="#ff0a00"/>
<rect x="595.61" y="1362.74" width="10.39" height="10.38" fill="#ff0a00"/>
<rect x="595.61" y="1342.02" width="10.39" height="10.38" fill="#ff7300"/>
<rect x="595.61" y="1331.66" width="10.39" height="10.38" fill="#19d2f0"/>
<rect x="595.61" y="1321.30" width="10.39" height="10.38" fill="#4a86c6"/>
<rect x="595.61" y="1310.93" width="10.39" height="10.38" fill="#4a86c6"/>
<rect x="595.61" y="1300.57" width="10.39" height="10.38" fill="#4a86c6"/>
<rect x="595.61" y="1290.21" width="10.39" height="10.38" fill="#4a86c6"/>
<rect x="595.61" y="523.42" width="10.39" height="10.38" fill="#32aadc"/>
<rect x="605.97" y="1362.74" width="10.39" height="10.38" fill="#ff7300"/>
<rect x="605.97" y="1352.38" width="10.39" height="10.38" fill="#ff7300"/>
<rect x="605.97" y="1331.66" width="10.39" height="10.38" fill="#19d2f0"/>
<rect x="605.97" y="1321.30" width="10.39" height="10.38" fill="#32aadc"/>
<rect x="605.97" y="1310.93" width="10.39" height="10.38" fill="#4a86c6"/>
<rect x="605.97" y="1300.57" width="10.39" height="10.38" fill="#32aadc"/>
<rect x="616.34" y="1362.74" width="10.39" height="10.38" fill="#19d2f0"/>
<rect x="616.34" y="1352.38" width="10.39" height="10.38" fill="#19d2f0"/>
<rect x="616.34" y="1342.02" width="10.39" height="10.38" fill="#19d2f0"/>
<rect x="616.34" y="1321.30" width="10.39" height="10.38" fill="#19d2f0"/>
<rect x="616.34" y="1310.93" width="10.39" height="10.38" fill="#00faff"/>
<rect x="616.34" y="1300.57" width="10.39" height="10.38" fill="#00faff"/>
<rect x="616.34" y="564.87" width="10.39" height="10.38" fill="#ffa000"/>
<rect x="626.71" y="1362.74" width="10.39" height="10.38" fill="#32aadc"/>
<rect x="626.71" y="1352.38" width="10.39" height="10.38" fill="#4a86c6"/>
<rect x="626.71" y="1342.02" width="10.39" height="10.38" fill="#32aadc"/>
<rect x="626.71" y="1331.66" width="10.39" height="10.38" fill="#19d2f0"/>
<rect x="626.71" y="1310.93" width="10.39" height="10.38" fill="#ff7300"/>
<rect x="626.71" y="1300.57" width="10.39" height="10.38" fill="#ff7300"/>
<rect x="626.71" y="741.02" width="10.39" height="10.38" fill="#19d2f0"/>
<rect x="626.71" y="730.66" width="10.39" height="10.38" fill="#19d2f0"/>
<rect x="626.71" y="720.30" width="10.39" height="10.38" fill="#19d2f0"/>
<rect x="626.71" y="709.94" width="10.39" height="10.38" fill="#19d2f0"/>
<rect x="626.71" y="564.87" width="10.39" height="10.38" fill="#ff4600"/>
<rect x="626.71" y="523.42" width="10.39" height="10.38" fill="#ff4600"/>
<rect x="637.07" y="1373.11" width="10.39" height="10.38" fill="#4a86c6"/>
<rect x="637.07" y="1362.74" width="10.39" height="10.38" fill="#4a86c6"/>
<rect x="637.07" y="1352.38" width="10.39" height="10.38" fill="#4a86c6"/>
<rect x="637.07" y="1342.02" width="10.39" height="10.38" fill="#4a86c6"/>
<rect x="637.07" y="1331.66" width="10.39" height="10.38" fill="#00faff"/>
<rect x="637.07" y="1321.30" width="10.39" height="10.38" fill="#ff7300"/>
<rect x="637.07" y="1300.57" width="10.39" height="10.38" fill="#ff0a00"/>
<rect x="637.07" y="1290.21" width="10.39" height="10.38" fill="#ff0a00"/>
<rect x="637.07" y="751.39" width="10.39" height="10.38" fill="#4a86c6"/>
<rect x="637.07" y="741.02" width="10.39" height="10.38" fill="#32aadc"/>
<rect x="637.07" y="730.66" width="10.39" height="10.38" fill="#32aadc"/>
<rect x="637.07" y="720.30" width="10.39" height="10.38" fill="#19d2f0"/>
<rect x="637.07" y="523.42" width="10.39" height="10.38" fill="#ff4600"/>
<rect x="647.44" y="1383.47" width="10.39" height="10.38" fill="#4a86c6"/>
<rect x="647.44" y="1373.11" width="10.39" height="10.38" fill="#4a86c6"/>
<rect x="647.44" y="1362.74" width="10.39" height="10.38" fill="#4a86c6"/>
<rect x="647.44" y="1352.38" width="10.39" height="10.38" fill="#4a86c6"/>
<rect x="647.44" y="1342.02" width="10.39" height="10.38" fill="#32aadc"/>
<rect x="647.44" y="1331.66" width="10.39" height="10.38" fill="#00faff"/>
<rect x="647.44" y="1321.30" width="10.39" height="10.38" fill="#ff7300"/>
<rect x="647.44" y="1310.93" width="10.39" height="10.38" fill="#ff0a00"/>
<rect x="647.44" y="1290.21" width="10.39" height="10.38" fill="#ff7300"/>
<rect x="647.44" y="1279.85" width="10.39" height="10.38" fill="#ff0a00"/>
<rect x="647.44" y="761.75" width="10.39" height="10.38" fill="#4a86c6"/>
<rect x="647.44" y="751.39" width="10.39" height="10.38" fill="#4a86c6"/>
<rect x="647.44" y="741.02" width="10.39" height="10.38" fill="#4a86c6"/>
<rect x="647.44" y="730.66" width="10.39" height="10.38" fill="#4a86c6"/>
<rect x="647.44" y="720.30" width="10.39" height="10.38" fill="#19d2f0"/>
<rect x="647.44" y="523.42" width="10.39" height="10.38" fill="#ff4600"/>
<rect x="657.80" y="1715.05" width="10.39" height="10.38" fill="#32aadc"/>
<rect x="657.80" y="1393.83" width="10.39" height="10.38" fill="#4a86c6"/>
<rect x="657.80" y="1383.47" width="10.39" height="10.38" fill="#4a86c6"/>
<rect x="657.80" y="1373.11" width="10.39" height="10.38" fill="#4a86c6"/>
<rect x="657.80" y="1362.74" width="10.39" height="10.38" fill="#4a86c6"/>
<rect x="657.80" y="1352.38" width="10.39" height="10.38" fill="#4a86c6"/>
<rect x="657.80" y="1310.93" width="10.39" height="10.38" fill="#ff0a00"/>
<rect x="657.80" y="1300.57" width="10.39" height="10.38" fill="#ff7300"/>
<rect x="657.80" y="1279.85" width="10.39" height="10.38" fill="#ff0a00"/>
<rect x="657.80" y="1269.49" width="10.39" height="10.38" fill="#ff0a00"/>
<rect x="657.80" y="772.11" width="10.39" height="10.38" fill="#4a86c6"/>
<rect x="657.80" y="761.75" width="10.39" height="10.38" fill="#4a86c6"/>
<rect x="657.80" y="751.39" width="10.39" height="10.38" fill="#4a86c6"/>
<rect x="657.80" y="741.02" width="10.39" height="10.38" fill="#4a86c6"/>
<rect x="657.80" y="730.66" width="10.39" height="10.38" fill="#4a86c6"/>
<rect x="657.80" y="481.97" width="10.39" height="10.38" fill="#ff4600"/>
<rect x="668.17" y="1715.05" width="10.39" height="10.38" fill="#4a86c6"/>
<rect x="668.17" y="1704.69" width="10.39" height="10.38" fill="#19d2f0"/>
<rect x="668.17" y="1673.60" width="10.39" height="10.38" fill="#ff4600"/>
<rect x="668.17" y="1404.19" width="10.39" height="10.38" fill="#4a86c6"/>
<rect x="668.17" y="1393.83" width="10.39" height="10.38" fill="#4a86c6"/>
<rect x="668.17" y="1383.47" width="10.39" height="10.38" fill="#4a86c6"/>
<rect x="668.17" y="1373.11" width="10.39" height="10.38" fill="#4a86c6"/>
<rect x="668.17" y="1362.74" width="10.39" height="10.38" fill="#4a86c6"/>
<rect x="668.17" y="1300.57" width="10.39" height="10.38" fill="#ff0a00"/>
<rect x="668.17" y="1290.21" width="10.39" height="10.38" fill="#ff0a00"/>
<rect x="668.17" y="1269.49" width="10.39" height="10.38" fill="#ff7300"/>
<rect x="668.17" y="1259.12" width="10.39" height="10.38" fill="#ff0a00"/>
<rect x="668.17" y="1031.16" width="10.39" height="10.38" fill="#32aadc"/>
<rect x="668.17" y="782.47" width="10.39" height="10.38" fill="#4a86c6"/>
<rect x="668.17" y="772.11" width="10.39" height="10.38" fill="#4a86c6"/>
<rect x="668.17" y="761.75" width="10.39" height="10.38" fill="#4a86c6"/>
<rect x="668.17" y="751.39" width="10.39" height="10.38" fill="#4a86c6"/>
<rect x="668.17" y="741.02" width="10.39" height="10.38" fill="#4a86c6"/>
<rect x="668.17" y="481.97" width="10.39" height="10.38" fill="#ff4600"/>
<rect x="678.54" y="1715.05" width="10.39" height="10.38" fill="#4a86c6"/>
<rect x="678.54" y="1673.60" width="10.39" height="10.38" fill="#ff4600"/>
<rect x="678.54" y="1414.55" width="10.39" height="10.38" fill="#4a86c6"/>
<rect x="678.54" y="1404.19" width="10.39" height="10.38" fill="#4a86c6"/>
<rect x="678.54" y="1393.83" width="10.39" height="10.38" fill="#4a86c6"/>
<rect x="678.54" y="1383.47" width="10.39" height="10.38" fill="#4a86c6"/>
<rect x="678.54" y="1373.11" width="10.39" height="10.38" fill="#4a86c6"/>
<rect x="678.54" y="1290.21" width="10.39" height="10.38" fill="#ff0a00"/>
<rect x="678.54" y="1279.85" width="10.39" height="10.38" fill="#ff7300"/>
<rect x="678.54" y="1259.12" width="10.39" height="10.38" fill="#ff0a00"/>
<rect x="678.54" y="1248.76" width="10.39" height="10.38" fill="#ff0a00"/>
<rect x="678.54" y="792.83" width="10.39" height="10.38" fill="#19d2f0"/>
<rect x="678.54" y="782.47" width="10.39" height="10.38" fill="#4a86c6"/>
<rect x="678.54" y="772.11" width="10.39" height="10.38" fill="#4a86c6"/>
<rect x="678.54" y="761.75" width="10.39" height="10.38" fill="#4a86c6"/>
<rect x="678.54" y="751.39" width="10.39" height="10.38" fill="#4a86c6"/>
<rect x="678.54" y="481.97" width="10.39" height="10.38" fill="#ff4600"/>
<rect x="678.54" y="440.53" width="10.39" height="10.38" fill="#ff4600"/>
<rect x="688.90" y="1424.92" width="10.39" height="10.38" fill="#4a86c6"/>
<rect x="688.90" y="1414.55" width="10.39" height="10.38" fill="#4a86c6"/>
<rect x="688.90" y="1404.19" width="10.39" height="10.38" fill="#4a86c6"/>
<rect x="688.90" y="1393.83" width="10.39" height="10.38" fill="#4a86c6"/>
<rect x="688.90" y="1383.47" width="10.39" height="10.38" fill="#4a86c6"/>
<rect x="688.90" y="1279.85" width="10.39" height="10.38" fill="#ff0a00"/>
<rect x="688.90" y="1269.49" width="10.39" height="10.38" fill="#ff0a00"/>
<rect x="688.90" y="1248.76" width="10.39" height="10.38" fill="#ff0a00"/>
<rect x="688.90" y="1238.40" width="10.39" height="10.38" fill="#ff0a00"/>
<rect x="688.90" y="1051.88" width="10.39" height="10.38" fill="#32aadc"/>
<rect x="688.90" y="803.20" width="10.39" height="10.38" fill="#32aadc"/>
<rect x="688.90" y="792.83" width="10.39" height="10.38" fill="#4a86c6"/>
<rect x="688.90" y="782.47" width="10.39" height="10.38" fill="#4a86c6"/>
<rect x="688.90" y="772.11" width="10.39" height="10.38" fill="#4a86c6"/>
<rect x="688.90" y="761.75" width="10.39" height="10.38" fill="#4a86c6"/>
<rect x="688.90" y="481.97" width="10.39" height="10.38" fill="#ff0a00"/>
<rect x="688.90" y="440.53" width="10.39" height="10.38" fill="#ff4600"/>
<rect x="688.90" y="409.44" width="10.39" height="10.38" fill="#ff4600"/>
<rect x="699.27" y="1590.71" width="10.39" height="10.38" fill="#ff7300"/>
<rect x="699.27" y="1580.35" width="10.39" height="10.38" fill="#ff7300"/>
<rect x="699.27" y="1549.26" width="10.39" height="10.38" fill="#ff0a00"/>
<rect x="699.27" y="1445.64" width="10.39" height="10.38" fill="#19d2f0"/>
<rect x="699.27" y="1435.28" width="10.39" height="10.38" fill="#19d2f0"/>
<rect x="699.27" y="1424.92" width="10.39" height="10.38" fill="#4a86c6"/>
<rect x="699.27" y="1414.55" width="10.39" height="10.38" fill="#4a86c6"/>
<rect x="699.27" y="1404.19" width="10.39" height="10.38" fill="#4a86c6"/>
<rect x="699.27" y="1393.83" width="10.39" height="10.38" fill="#4a86c6"/>
<rect x="699.27" y="1269.49" width="10.39" height="10.38" fill="#ff0a00"/>
<rect x="699.27" y="1259.12" width="10.39" height="10.38" fill="#ff0a00"/>
<rect x="699.27" y="1238.40" width="10.39" height="10.38" fill="#ff7300"/>
<rect x="699.27" y="1228.04" width="10.39" height="10.38" fill="#ff4600"/>
<rect x="699.27" y="1217.68" width="10.39" height="10.38" fill="#ff4600"/>
<rect x="699.27" y="813.56" width="10.39" height="10.38" fill="#19d2f0"/>
<rect x="699.27" y="803.20" width="10.39" height="10.38" fill="#32aadc"/>
<rect x="699.27" y="792.83" width="10.39" height="10.38" fill="#4a86c6"/>
<rect x="699.27" y="782.47" width="10.39" height="10.38" fill="#4a86c6"/>
<rect x="699.27" y="772.11" width="10.39" height="10.38" fill="#4a86c6"/>
<rect x="709.63" y="1456.00" width="10.39" height="10.38" fill="#32aadc"/>
<rect x="709.63" y="1445.64" width="10.39" height="10.38" fill="#19d2f0"/>
<rect x="709.63" y="1435.28" width="10.39" height="10.38" fill="#19d2f0"/>
<rect x="709.63" y="1424.92" width="10.39" height="10.38" fill="#4a86c6"/>
<rect x="709.63" y="1414.55" width="10.39" height="10.38" fill="#4a86c6"/>
<rect x="709.63" y="1404.19" width="10.39" height="10.38" fill="#4a86c6"/>
<rect x="709.63" y="1259.12" width="10.39" height="10.38" fill="#ff0a00"/>
<rect x="709.63" y="1248.76" width="10.39" height="10.38" fill="#ff7300"/>
<rect x="709.63" y="1228.04" width="10.39" height="10.38" fill="#ff7300"/>
<rect x="709.63" y="1217.68" width="10.39" height="10.38" fill="#ff0a00"/>
<rect x="709.63" y="1207.31" width="10.39" height="10.38" fill="#ff7300"/>
<rect x="709.63" y="1196.95" width="10.39" height="10.38" fill="#00faff"/>
<rect x="709.63" y="823.92" width="10.39" height="10.38" fill="#ffa000"/>
<rect x="709.63" y="813.56" width="10.39" height="10.38" fill="#32aadc"/>
<rect x="709.63" y="803.20" width="10.39" height="10.38" fill="#32aadc"/>
<rect x="709.63" y="792.83" width="10.39" height="10.38" fill="#32aadc"/>
<rect x="709.63" y="782.47" width="10.39" height="10.38" fill="#4a86c6"/>
<rect x="709.63" y="399.08" width="10.39" height="10.38" fill="#ff7300"/>
<rect x="709.63" y="264.37" width="10.39" height="10.38" fill="#19d2f0"/>
<rect x="720.00" y="1549.26" width="10.39" height="10.38" fill="#ff4600"/>
<rect x="720.00" y="1476.73" width="10.39" height="10.38" fill="#ffa000"/>
<rect x="720.00" y="1466.36" width="10.39" height="10.38" fill="#19d2f0"/>
<rect x="720.00" y="1456.00" width="10.39" height="10.38" fill="#32aadc"/>
<rect x="720.00" y="1445.64" width="10.39" height="10.38" fill="#19d2f0"/>
<rect x="720.00" y="1435.28" width="10.39" height="10.38" fill="#32aadc"/>
<rect x="720.00" y="1424.92" width="10.39" height="10.38" fill="#4a86c6"/>
<rect x="720.00" y="1414.55" width="10.39" height="10.38" fill="#4a86c6"/>
<rect x="720.00" y="1248.76" width="10.39" height="10.38" fill="#ff4600"/>
<rect x="720.00" y="1238.40" width="10.39" height="10.38" fill="#ff7300"/>
<rect x="720.00" y="1217.68" width="10.39" height="10.38" fill="#ff7300"/>
<rect x="720.00" y="1207.31" width="10.39" height="10.38" fill="#00faff"/>
<rect x="720.00" y="1196.95" width="10.39" height="10.38" fill="#19d2f0"/>
<rect x="720.00" y="1186.59" width="10.39" height="10.38" fill="#00faff"/>
<rect x="720.00" y="813.56" width="10.39" height="10.38" fill="#19d2f0"/>
<rect x="720.00" y="803.20" width="10.39" height="10.38" fill="#19d2f0"/>
<rect x="720.00" y="792.83" width="10.39" height="10.38" fill="#19d2f0"/>
<rect x="720.00" y="264.37" width="10.39" height="10.38" fill="#19d2f0"/>
<rect x="720.00" y="233.29" width="10.39" height="10.38" fill="#32aadc"/>
<rect x="720.00" y="222.92" width="10.39" height="10.38" fill="#19d2f0"/>
<rect x="730.37" y="1476.73" width="10.39" height="10.38" fill="#19d2f0"/>
<rect x="730.37" y="1466.36" width="10.39" height="10.38" fill="#19d2f0"/>
<rect x="730.37" y="1456.00" width="10.39" height="10.38" fill="#32aadc"/>
<rect x="730.37" y="1445.64" width="10.39" height="10.38" fill="#19d2f0"/>
<rect x="730.37" y="1435.28" width="10.39" height="10.38" fill="#32aadc"/>
<rect x="730.37" y="1424.92" width="10.39" height="10.38" fill="#4a86c6"/>
<rect x="730.37" y="1248.76" width="10.39" height="10.38" fill="#ff4600"/>
<rect x="730.37" y="1238.40" width="10.39" height="10.38" fill="#ff0a00"/>
<rect x="730.37" y="1228.04" width="10.39" height="10.38" fill="#ff7300"/>
<rect x="730.37" y="1207.31" width="10.39" height="10.38" fill="#ff7300"/>
<rect x="730.37" y="1196.95" width="10.39" height="10.38" fill="#00faff"/>
<rect x="730.37" y="1186.59" width="10.39" height="10.38" fill="#ff7300"/>
<rect x="730.37" y="274.73" width="10.39" height="10.38" fill="#19d2f0"/>
<rect x="730.37" y="264.37" width="10.39" height="10.38" fill="#19d2f0"/>
<rect x="730.37" y="233.29" width="10.39" height="10.38" fill="#19d2f0"/>
<rect x="730.37" y="222.92" width="10.39" height="10.38" fill="#00faff"/>
<rect x="740.73" y="1476.73" width="10.39" height="10.38" fill="#19d2f0"/>
<rect x="740.73" y="1466.36" width="10.39" height="10.38" fill="#32aadc"/>
<rect x="740.73" y="1456.00" width="10.39" height="10.38" fill="#19d2f0"/>
<rect x="740.73" y="1445.64" width="10.39" height="10.38" fill="#00faff"/>
<rect x="740.73" y="1238.40" width="10.39" height="10.38" fill="#ff7300"/>
<rect x="740.73" y="1228.04" width="10.39" height="10.38" fill="#00faff"/>
<rect x="740.73" y="1217.68" width="10.39" height="10.38" fill="#ff7300"/>
<rect x="740.73" y="1196.95" width="10.39" height="10.38" fill="#ff7300"/>
<rect x="740.73" y="1186.59" width="10.39" height="10.38" fill="#ff7300"/>
<rect x="740.73" y="1176.23" width="10.39" height="10.38" fill="#ff4600"/>
<rect x="740.73" y="813.56" width="10.39" height="10.38" fill="#19d2f0"/>
<rect x="740.73" y="233.29" width="10.39" height="10.38" fill="#ff7300"/>
<rect x="740.73" y="222.92" width="10.39" height="10.38" fill="#ff7300"/>
<rect x="751.10" y="1238.40" width="10.39" height="10.38" fill="#00faff"/>
<rect x="751.10" y="1228.04" width="10.39" height="10.38" fill="#19d2f0"/>
<rect x="751.10" y="1217.68" width="10.39" height="10.38" fill="#00faff"/>
<rect x="751.10" y="1207.31" width="10.39" height="10.38" fill="#ff7300"/>
<rect x="751.10" y="1186.59" width="10.39" height="10.38" fill="#ff7300"/>
<rect x="751.10" y="1176.23" width="10.39" height="10.38" fill="#ff7300"/>
<rect x="751.10" y="1165.87" width="10.39" height="10.38" fill="#ffa000"/>
<rect x="751.10" y="1155.50" width="10.39" height="10.38" fill="#19d2f0"/>
<rect x="751.10" y="813.56" width="10.39" height="10.38" fill="#19d2f0"/>
<rect x="751.10" y="233.29" width="10.39" height="10.38" fill="#ff4600"/>
<rect x="751.10" y="222.92" width="10.39" height="10.38" fill="#ff7300"/>
<rect x="761.46" y="1228.04" width="10.39" height="10.38" fill="#00faff"/>
<rect x="761.46" y="1217.68" width="10.39" height="10.38" fill="#ff7300"/>
<rect x="761.46" y="1207.31" width="10.39" height="10.38" fill="#ff7300"/>
<rect x="761.46" y="1196.95" width="10.39" height="10.38" fill="#ff7300"/>
<rect x="761.46" y="1176.23" width="10.39" height="10.38" fill="#ff7300"/>
<rect x="761.46" y="1165.87" width="10.39" height="10.38" fill="#19d2f0"/>
<rect x="761.46" y="1155.50" width="10.39" height="10.38" fill="#19d2f0"/>
<rect x="761.46" y="1145.14" width="10.39" height="10.38" fill="#ff4600"/>
<rect x="761.46" y="823.92" width="10.39" height="10.38" fill="#19d2f0"/>
<rect x="761.46" y="813.56" width="10.39" height="10.38" fill="#32aadc"/>
<rect x="771.83" y="1207.31" width="10.39" height="10.38" fill="#ff4600"/>
<rect x="771.83" y="1196.95" width="10.39" height="10.38" fill="#ff7300"/>
<rect x="771.83" y="1186.59" width="10.39" height="10.38" fill="#ff7300"/>
<rect x="771.83" y="1165.87" width="10.39" height="10.38" fill="#19d2f0"/>
<rect x="771.83" y="1155.50" width="10.39" height="10.38" fill="#00faff"/>
<rect x="771.83" y="1145.14" width="10.39" height="10.38" fill="#ff7300"/>
<rect x="771.83" y="1134.78" width="10.39" height="10.38" fill="#ff7300"/>
<rect x="771.83" y="813.56" width="10.39" height="10.38" fill="#4a86c6"/>
<rect x="782.20" y="1196.95" width="10.39" height="10.38" fill="#ffa000"/>
<rect x="782.20" y="1186.59" width="10.39" height="10.38" fill="#19d2f0"/>
<rect x="782.20" y="1176.23" width="10.39" height="10.38" fill="#19d2f0"/>
<rect x="782.20" y="1155.50" width="10.39" height="10.38" fill="#ff7300"/>
<rect x="782.20" y="1145.14" width="10.39" height="10.38" fill="#00faff"/>
<rect x="782.20" y="1134.78" width="10.39" height="10.38" fill="#ffa000"/>
<rect x="782.20" y="1124.42" width="10.39" height="10.38" fill="#ffa000"/>
<rect x="792.56" y="1196.95" width="10.39" height="10.38" fill="#19d2f0"/>
<rect x="792.56" y="1186.59" width="10.39" height="10.38" fill="#19d2f0"/>
<rect x="792.56" y="1176.23" width="10.39" height="10.38" fill="#00faff"/>
<rect x="792.56" y="1165.87" width="10.39" height="10.38" fill="#ff7300"/>
<rect x="792.56" y="1145.14" width="10.39" height="10.38" fill="#ff7300"/>
<rect x="792.56" y="1134.78" width="10.39" height="10.38" fill="#00faff"/>
<rect x="792.56" y="1124.42" width="10.39" height="10.38" fill="#19d2f0"/>
<rect x="792.56" y="813.56" width="10.39" height="10.38" fill="#19d2f0"/>
<rect x="802.93" y="1186.59" width="10.39" height="10.38" fill="#ff4600"/>
<rect x="802.93" y="1176.23" width="10.39" height="10.38" fill="#ff7300"/>
<rect x="802.93" y="1165.87" width="10.39" height="10.38" fill="#00faff"/>
<rect x="802.93" y="1155.50" width="10.39" height="10.38" fill="#ff7300"/>
<rect x="802.93" y="1134.78" width="10.39" height="10.38" fill="#19d2f0"/>
<rect x="802.93" y="1124.42" width="10.39" height="10.38" fill="#00faff"/>
<rect x="802.93" y="1114.06" width="10.39" height="10.38" fill="#19d2f0"/>
<rect x="813.29" y="1176.23" width="10.39" height="10.38" fill="#ff7300"/>
<rect x="813.29" y="1165.87" width="10.39" height="10.38" fill="#ffa000"/>
<rect x="813.29" y="1155.50" width="10.39" height="10.38" fill="#00faff"/>
<rect x="813.29" y="1145.14" width="10.39" height="10.38" fill="#19d2f0"/>
<rect x="813.29" y="1124.42" width="10.39" height="10.38" fill="#ff7300"/>
<rect x="813.29" y="1114.06" width="10.39" height="10.38" fill="#ffa000"/>
<rect x="813.29" y="1103.69" width="10.39" height="10.38" fill="#19d2f0"/>
<rect x="823.66" y="1165.87" width="10.39" height="10.38" fill="#ffa000"/>
<rect x="823.66" y="1155.50" width="10.39" height="10.38" fill="#19d2f0"/>
<rect x="823.66" y="1145.14" width="10.39" height="10.38" fill="#00faff"/>
<rect x="823.66" y="1134.78" width="10.39" height="10.38" fill="#ff7300"/>
<rect x="823.66" y="1114.06" width="10.39" height="10.38" fill="#ff7300"/>
<rect x="823.66" y="1103.69" width="10.39" height="10.38" fill="#00faff"/>
<rect x="823.66" y="1093.33" width="10.39" height="10.38" fill="#19d2f0"/>
<rect x="834.03" y="1145.14" width="10.39" height="10.38" fill="#19d2f0"/>
<rect x="834.03" y="1134.78" width="10.39" height="10.38" fill="#ffa000"/>
<rect x="834.03" y="1124.42" width="10.39" height="10.38" fill="#ff7300"/>
<rect x="834.03" y="1103.69" width="10.39" height="10.38" fill="#ff7300"/>
<rect x="834.03" y="1093.33" width="10.39" height="10.38" fill="#00faff"/>
<rect x="834.03" y="1082.97" width="10.39" height="10.38" fill="#ffa000"/>
<rect x="844.39" y="1134.78" width="10.39" height="10.38" fill="#19d2f0"/>
<rect x="844.39" y="1124.42" width="10.39" height="10.38" fill="#00faff"/>
<rect x="844.39" y="1114.06" width="10.39" height="10.38" fill="#ff7300"/>
<rect x="844.39" y="1093.33" width="10.39" height="10.38" fill="#ff7300"/>
<rect x="844.39" y="1082.97" width="10.39" height="10.38" fill="#ff4600"/>
<rect x="854.76" y="1124.42" width="10.39" height="10.38" fill="#19d2f0"/>
<rect x="854.76" y="1114.06" width="10.39" height="10.38" fill="#00faff"/>
<rect x="854.76" y="1103.69" width="10.39" height="10.38" fill="#ff7300"/>
<rect x="854.76" y="1082.97" width="10.39" height="10.38" fill="#ff7300"/>
<rect x="854.76" y="1072.61" width="10.39" height="10.38" fill="#ff4600"/>
<rect x="865.12" y="1114.06" width="10.39" height="10.38" fill="#ffa000"/>
<rect x="865.12" y="1103.69" width="10.39" height="10.38" fill="#ff4600"/>
<rect x="865.12" y="1093.33" width="10.39" height="10.38" fill="#ff7300"/>
<rect x="865.12" y="1072.61" width="10.39" height="10.38" fill="#ff7300"/>
<rect x="865.12" y="1062.25" width="10.39" height="10.38" fill="#ff4600"/>
<rect x="875.49" y="1093.33" width="10.39" height="10.38" fill="#ff4600"/>
<rect x="875.49" y="1082.97" width="10.39" height="10.38" fill="#ff7300"/>
<rect x="875.49" y="1062.25" width="10.39" height="10.38" fill="#ff7300"/>
<rect x="875.49" y="1051.88" width="10.39" height="10.38" fill="#ff7300"/>
<rect x="875.49" y="927.54" width="10.39" height="10.38" fill="#19d2f0"/>
<rect x="875.49" y="906.82" width="10.39" height="10.38" fill="#19d2f0"/>
<rect x="875.49" y="823.92" width="10.39" height="10.38" fill="#ffa000"/>
<rect x="885.86" y="1082.97" width="10.39" height="10.38" fill="#ff4600"/>
<rect x="885.86" y="1072.61" width="10.39" height="10.38" fill="#ff7300"/>
<rect x="885.86" y="1051.88" width="10.39" height="10.38" fill="#ff7300"/>
<rect x="885.86" y="1041.52" width="10.39" height="10.38" fill="#ff7300"/>
<rect x="885.86" y="937.90" width="10.39" height="10.38" fill="#4a86c6"/>
<rect x="885.86" y="927.54" width="10.39" height="10.38" fill="#19d2f0"/>
<rect x="885.86" y="917.18" width="10.39" height="10.38" fill="#19d2f0"/>
<rect x="885.86" y="906.82" width="10.39" height="10.38" fill="#19d2f0"/>
<rect x="885.86" y="803.20" width="10.39" height="10.38" fill="#ff7300"/>
<rect x="885.86" y="792.83" width="10.39" height="10.38" fill="#ff7300"/>
<rect x="885.86" y="782.47" width="10.39" height="10.38" fill="#ff4600"/>
<rect x="896.22" y="1259.12" width="10.39" height="10.38" fill="#32aadc"/>
<rect x="896.22" y="1072.61" width="10.39" height="10.38" fill="#ff7300"/>
<rect x="896.22" y="1062.25" width="10.39" height="10.38" fill="#ff7300"/>
<rect x="896.22" y="1041.52" width="10.39" height="10.38" fill="#ff7300"/>
<rect x="896.22" y="1031.16" width="10.39" height="10.38" fill="#ff0a00"/>
<rect x="896.22" y="948.26" width="10.39" height="10.38" fill="#4a86c6"/>
<rect x="896.22" y="937.90" width="10.39" height="10.38" fill="#4a86c6"/>
<rect x="896.22" y="927.54" width="10.39" height="10.38" fill="#19d2f0"/>
<rect x="896.22" y="917.18" width="10.39" height="10.38" fill="#32aadc"/>
<rect x="896.22" y="906.82" width="10.39" height="10.38" fill="#19d2f0"/>
<rect x="896.22" y="803.20" width="10.39" height="10.38" fill="#ff7300"/>
<rect x="896.22" y="792.83" width="10.39" height="10.38" fill="#ff7300"/>
<rect x="896.22" y="782.47" width="10.39" height="10.38" fill="#ff0a00"/>
<rect x="896.22" y="772.11" width="10.39" height="10.38" fill="#ff4600"/>
<rect x="906.59" y="1062.25" width="10.39" height="10.38" fill="#ff7300"/>
<rect x="906.59" y="1051.88" width="10.39" height="10.38" fill="#ff7300"/>
<rect x="906.59" y="1031.16" width="10.39" height="10.38" fill="#ff7300"/>
<rect x="906.59" y="1020.80" width="10.39" height="10.38" fill="#ff0a00"/>
<rect x="906.59" y="968.99" width="10.39" height="10.38" fill="#19d2f0"/>
<rect x="906.59" y="958.63" width="10.39" height="10.38" fill="#19d2f0"/>
<rect x="906.59" y="948.26" width="10.39" height="10.38" fill="#4a86c6"/>
<rect x="906.59" y="937.90" width="10.39" height="10.38" fill="#4a86c6"/>
<rect x="906.59" y="927.54" width="10.39" height="10.38" fill="#19d2f0"/>
<rect x="906.59" y="917.18" width="10.39" height="10.38" fill="#19d2f0"/>
<rect x="906.59" y="792.83" width="10.39" height="10.38" fill="#ff4600"/>
<rect x="906.59" y="782.47" width="10.39" height="10.38" fill="#ff0a00"/>
<rect x="906.59" y="772.11" width="10.39" height="10.38" fill="#ff4600"/>
<rect x="906.59" y="761.75" width="10.39" height="10.38" fill="#ff4600"/>
<rect x="906.59" y="751.39" width="10.39" height="10.38" fill="#ff0a00"/>
<rect x="916.95" y="1279.85" width="10.39" height="10.38" fill="#32aadc"/>
<rect x="916.95" y="1051.88" width="10.39" height="10.38" fill="#ff0a00"/>
<rect x="916.95" y="1041.52" width="10.39" height="10.38" fill="#ff7300"/>
<rect x="916.95" y="1020.80" width="10.39" height="10.38" fill="#ff7300"/>
<rect x="916.95" y="1010.44" width="10.39" height="10.38" fill="#ff0a00"/>
<rect x="916.95" y="979.35" width="10.39" height="10.38" fill="#32aadc"/>
<rect x="916.95" y="968.99" width="10.39" height="10.38" fill="#32aadc"/>
<rect x="916.95" y="958.63" width="10.39" height="10.38" fill="#32aadc"/>
<rect x="916.95" y="948.26" width="10.39" height="10.38" fill="#4a86c6"/>
<rect x="916.95" y="937.90" width="10.39" height="10.38" fill="#4a86c6"/>
<rect x="916.95" y="927.54" width="10.39" height="10.38" fill="#19d2f0"/>
<rect x="916.95" y="917.18" width="10.39" height="10.38" fill="#19d2f0"/>
<rect x="916.95" y="782.47" width="10.39" height="10.38" fill="#ff0a00"/>
<rect x="916.95" y="772.11" width="10.39" height="10.38" fill="#ff4600"/>
<rect x="916.95" y="761.75" width="10.39" height="10.38" fill="#ff4600"/>
<rect x="916.95" y="751.39" width="10.39" height="10.38" fill="#ff4600"/>
<rect x="916.95" y="741.02" width="10.39" height="10.38" fill="#ff4600"/>
<rect x="927.32" y="1041.52" width="10.39" height="10.38" fill="#ff0a00"/>
<rect x="927.32" y="1031.16" width="10.39" height="10.38" fill="#ff7300"/>
<rect x="927.32" y="1010.44" width="10.39" height="10.38" fill="#ff7300"/>
<rect x="927.32" y="1000.07" width="10.39" height="10.38" fill="#ffa000"/>
<rect x="927.32" y="989.71" width="10.39" height="10.38" fill="#19d2f0"/>
<rect x="927.32" y="979.35" width="10.39" height="10.38" fill="#32aadc"/>
<rect x="927.32" y="968.99" width="10.39" height="10.38" fill="#32aadc"/>
<rect x="927.32" y="958.63" width="10.39" height="10.38" fill="#32aadc"/>
<rect x="927.32" y="948.26" width="10.39" height="10.38" fill="#4a86c6"/>
<rect x="927.32" y="937.90" width="10.39" height="10.38" fill="#4a86c6"/>
<rect x="927.32" y="772.11" width="10.39" height="10.38" fill="#ff4600"/>
<rect x="927.32" y="761.75" width="10.39" height="10.38" fill="#ff4600"/>
<rect x="927.32" y="751.39" width="10.39" height="10.38" fill="#ff4600"/>
<rect x="927.32" y="741.02" width="10.39" height="10.38" fill="#ff4600"/>
<rect x="937.69" y="1031.16" width="10.39" height="10.38" fill="#ff0a00"/>
<rect x="937.69" y="1020.80" width="10.39" height="10.38" fill="#ff7300"/>
<rect x="937.69" y="1000.07" width="10.39" height="10.38" fill="#19d2f0"/>
<rect x="937.69" y="989.71" width="10.39" height="10.38" fill="#19d2f0"/>
<rect x="937.69" y="979.35" width="10.39" height="10.38" fill="#32aadc"/>
<rect x="937.69" y="968.99" width="10.39" height="10.38" fill="#32aadc"/>
<rect x="937.69" y="958.63" width="10.39" height="10.38" fill="#32aadc"/>
<rect x="937.69" y="948.26" width="10.39" height="10.38" fill="#4a86c6"/>
<rect x="937.69" y="761.75" width="10.39" height="10.38" fill="#ff4600"/>
<rect x="937.69" y="751.39" width="10.39" height="10.38" fill="#ff0a00"/>
<rect x="937.69" y="741.02" width="10.39" height="10.38" fill="#ff4600"/>
<rect x="937.69" y="730.66" width="10.39" height="10.38" fill="#ff4600"/>
<rect x="937.69" y="709.94" width="10.39" height="10.38" fill="#19d2f0"/>
<rect x="948.05" y="1020.80" width="10.39" height="10.38" fill="#ffa000"/>
<rect x="948.05" y="1010.44" width="10.39" height="10.38" fill="#19d2f0"/>
<rect x="948.05" y="989.71" width="10.39" height="10.38" fill="#32aadc"/>
<rect x="948.05" y="979.35" width="10.39" height="10.38" fill="#19d2f0"/>
<rect x="948.05" y="968.99" width="10.39" height="10.38" fill="#32aadc"/>
<rect x="948.05" y="958.63" width="10.39" height="10.38" fill="#32aadc"/>
<rect x="948.05" y="751.39" width="10.39" height="10.38" fill="#00faff"/>
<rect x="948.05" y="741.02" width="10.39" height="10.38" fill="#00faff"/>
<rect x="948.05" y="730.66" width="10.39" height="10.38" fill="#00faff"/>
<rect x="958.42" y="1020.80" width="10.39" height="10.38" fill="#19d2f0"/>
<rect x="958.42" y="1010.44" width="10.39" height="10.38" fill="#19d2f0"/>
<rect x="958.42" y="1000.07" width="10.39" height="10.38" fill="#32aadc"/>
<rect x="958.42" y="979.35" width="10.39" height="10.38" fill="#ff7300"/>
<rect x="958.42" y="968.99" width="10.39" height="10.38" fill="#ff7300"/>
<rect x="958.42" y="958.63" width="10.39" height="10.38" fill="#ffa000"/>
<rect x="968.78" y="1031.16" width="10.39" height="10.38" fill="#32aadc"/>
<rect x="968.78" y="1020.80" width="10.39" height="10.38" fill="#32aadc"/>
<rect x="968.78" y="1010.44" width="10.39" height="10.38" fill="#32aadc"/>
<rect x="968.78" y="1000.07" width="10.39" height="10.38" fill="#19d2f0"/>
<rect x="968.78" y="989.71" width="10.39" height="10.38" fill="#ff7300"/>
<rect x="968.78" y="968.99" width="10.39" height="10.38" fill="#ff7300"/>
<rect x="968.78" y="958.63" width="10.39" height="10.38" fill="#ff0a00"/>
<rect x="968.78" y="948.26" width="10.39" height="10.38" fill="#ff7300"/>
<rect x="979.15" y="1041.52" width="10.39" height="10.38" fill="#19d2f0"/>
<rect x="979.15" y="1031.16" width="10.39" height="10.38" fill="#32aadc"/>
<rect x="979.15" y="1020.80" width="10.39" height="10.38" fill="#32aadc"/>
<rect x="979.15" y="1010.44" width="10.39" height="10.38" fill="#32aadc"/>
<rect x="979.15" y="1000.07" width="10.39" height="10.38" fill="#32aadc"/>
<rect x="979.15" y="989.71" width="10.39" height="10.38" fill="#ff7300"/>
<rect x="979.15" y="979.35" width="10.39" height="10.38" fill="#ff7300"/>
<rect x="979.15" y="958.63" width="10.39" height="10.38" fill="#ff7300"/>
<rect x="979.15" y="948.26" width="10.39" height="10.38" fill="#ff7300"/>
<rect x="979.15" y="937.90" width="10.39" height="10.38" fill="#ff7300"/>
<rect x="989.52" y="1041.52" width="10.39" height="10.38" fill="#19d2f0"/>
<rect x="989.52" y="1031.16" width="10.39" height="10.38" fill="#32aadc"/>
<rect x="989.52" y="1020.80" width="10.39" height="10.38" fill="#32aadc"/>
<rect x="989.52" y="1010.44" width="10.39" height="10.38" fill="#32aadc"/>
<rect x="989.52" y="1000.07" width="10.39" height="10.38" fill="#32aadc"/>
<rect x="989.52" y="989.71" width="10.39" height="10.38" fill="#ffa000"/>
<rect x="989.52" y="979.35" width="10.39" height="10.38" fill="#ff0a00"/>
<rect x="989.52" y="968.99" width="10.39" height="10.38" fill="#ff7300"/>
<rect x="989.52" y="948.26" width="10.39" height="10.38" fill="#ff7300"/>
<rect x="989.52" y="937.90" width="10.39" height="10.38" fill="#ff7300"/>
<rect x="999.88" y="1051.88" width="10.39" height="10.38" fill="#4a86c6"/>
<rect x="999.88" y="1041.52" width="10.39" height="10.38" fill="#4a86c6"/>
<rect x="999.88" y="1031.16" width="10.39" height="10.38" fill="#4a86c6"/>
<rect x="999.88" y="1020.80" width="10.39" height="10.38" fill="#4a86c6"/>
<rect x="999.88" y="1010.44" width="10.39" height="10.38" fill="#4a86c6"/>
<rect x="999.88" y="979.35" width="10.39" height="10.38" fill="#ff7300"/>
<rect x="999.88" y="968.99" width="10.39" height="10.38" fill="#ff7300"/>
<rect x="999.88" y="958.63" width="10.39" height="10.38" fill="#ff7300"/>
<rect x="999.88" y="937.90" width="10.39" height="10.38" fill="#ff7300"/>
<rect x="999.88" y="927.54" width="10.39" height="10.38" fill="#ffa000"/>
<rect x="999.88" y="917.18" width="10.39" height="10.38" fill="#00faff"/>
<rect x="1010.25" y="1062.25" width="10.39" height="10.38" fill="#4a86c6"/>
<rect x="1010.25" y="1051.88" width="10.39" height="10.38" fill="#4a86c6"/>
<rect x="1010.25" y="1041.52" width="10.39" height="10.38" fill="#4a86c6"/>
<rect x="1010.25" y="1031.16" width="10.39" height="10.38" fill="#4a86c6"/>
<rect x="1010.25" y="1020.80" width="10.39" height="10.38" fill="#4a86c6"/>
<rect x="1010.25" y="968.99" width="10.39" height="10.38" fill="#ff7300"/>
<rect x="1010.25" y="958.63" width="10.39" height="10.38" fill="#ff7300"/>
<rect x="1010.25" y="948.26" width="10.39" height="10.38" fill="#ff7300"/>
<rect x="1010.25" y="927.54" width="10.39" height="10.38" fill="#ff7300"/>
<rect x="1010.25" y="917.18" width="10.39" height="10.38" fill="#ff7300"/>
<rect x="1010.25" y="906.82" width="10.39" height="10.38" fill="#ff7300"/>
<rect x="1020.61" y="1072.61" width="10.39" height="10.38" fill="#19d2f0"/>
<rect x="1020.61" y="1062.25" width="10.39" height="10.38" fill="#19d2f0"/>
<rect x="1020.61" y="1051.88" width="10.39" height="10.38" fill="#19d2f0"/>
<rect x="1020.61" y="1041.52" width="10.39" height="10.38" fill="#19d2f0"/>
<rect x="1020.61" y="1031.16" width="10.39" height="10.38" fill="#19d2f0"/>
<rect x="1020.61" y="948.26" width="10.39" height="10.38" fill="#ffa000"/>
<rect x="1020.61" y="937.90" width="10.39" height="10.38" fill="#ff7300"/>
<rect x="1020.61" y="917.18" width="10.39" height="10.38" fill="#ff7300"/>
<rect x="1020.61" y="906.82" width="10.39" height="10.38" fill="#ff0a00"/>
<rect x="1020.61" y="896.45" width="10.39" height="10.38" fill="#ffa000"/>
<rect x="1030.98" y="1062.25" width="10.39" height="10.38" fill="#19d2f0"/>
<rect x="1030.98" y="1051.88" width="10.39" height="10.38" fill="#32aadc"/>
<rect x="1030.98" y="1041.52" width="10.39" height="10.38" fill="#19d2f0"/>
<rect x="1030.98" y="1031.16" width="10.39" height="10.38" fill="#19d2f0"/>
<rect x="1030.98" y="948.26" width="10.39" height="10.38" fill="#00faff"/>
<rect x="1030.98" y="937.90" width="10.39" height="10.38" fill="#ff7300"/>
<rect x="1030.98" y="927.54" width="10.39" height="10.38" fill="#ff7300"/>
<rect x="1030.98" y="906.82" width="10.39" height="10.38" fill="#ff7300"/>
<rect x="1030.98" y="896.45" width="10.39" height="10.38" fill="#ffa000"/>
<rect x="1030.98" y="886.09" width="10.39" height="10.38" fill="#ffa000"/>
<rect x="1030.98" y="875.73" width="10.39" height="10.38" fill="#ff7300"/>
<rect x="1041.35" y="1072.61" width="10.39" height="10.38" fill="#19d2f0"/>
<rect x="1041.35" y="1062.25" width="10.39" height="10.38" fill="#19d2f0"/>
<rect x="1041.35" y="1051.88" width="10.39" height="10.38" fill="#19d2f0"/>
<rect x="1041.35" y="937.90" width="10.39" height="10.38" fill="#ff7300"/>
<rect x="1041.35" y="927.54" width="10.39" height="10.38" fill="#ff0a00"/>
<rect x="1041.35" y="917.18" width="10.39" height="10.38" fill="#ff7300"/>
<rect x="1041.35" y="896.45" width="10.39" height="10.38" fill="#ff7300"/>
<rect x="1041.35" y="886.09" width="10.39" height="10.38" fill="#00faff"/>
<rect x="1041.35" y="875.73" width="10.39" height="10.38" fill="#ff7300"/>
<rect x="1041.35" y="865.37" width="10.39" height="10.38" fill="#ff7300"/>
<rect x="1041.35" y="855.01" width="10.39" height="10.38" fill="#19d2f0"/>
<rect x="1051.71" y="927.54" width="10.39" height="10.38" fill="#ffa000"/>
<rect x="1051.71" y="917.18" width="10.39" height="10.38" fill="#ffa000"/>
<rect x="1051.71" y="906.82" width="10.39" height="10.38" fill="#ff7300"/>
<rect x="1051.71" y="886.09" width="10.39" height="10.38" fill="#ff7300"/>
<rect x="1051.71" y="875.73" width="10.39" height="10.38" fill="#19d2f0"/>
<rect x="1051.71" y="865.37" width="10.39" height="10.38" fill="#32aadc"/>
<rect x="1051.71" y="855.01" width="10.39" height="10.38" fill="#19d2f0"/>
<rect x="1051.71" y="513.06" width="10.39" height="10.38" fill="#19d2f0"/>
<rect x="1062.08" y="917.18" width="10.39" height="10.38" fill="#ffa000"/>
<rect x="1062.08" y="906.82" width="10.39" height="10.38" fill="#00faff"/>
<rect x="1062.08" y="896.45" width="10.39" height="10.38" fill="#ff7300"/>
<rect x="1062.08" y="875.73" width="10.39" height="10.38" fill="#19d2f0"/>
<rect x="1062.08" y="865.37" width="10.39" height="10.38" fill="#00faff"/>
<rect x="1062.08" y="855.01" width="10.39" height="10.38" fill="#ff7300"/>
<rect x="1062.08" y="554.51" width="10.39" height="10.38" fill="#ffa000"/>
<rect x="1062.08" y="544.15" width="10.39" height="10.38" fill="#ff7300"/>
<rect x="1062.08" y="523.42" width="10.39" height="10.38" fill="#ffa000"/>
<rect x="1062.08" y="513.06" width="10.39" height="10.38" fill="#ffa000"/>
<rect x="1062.08" y="502.70" width="10.39" height="10.38" fill="#ff4600"/>
<rect x="1072.44" y="917.18" width="10.39" height="10.38" fill="#ff7300"/>
<rect x="1072.44" y="906.82" width="10.39" height="10.38" fill="#ff7300"/>
<rect x="1072.44" y="896.45" width="10.39" height="10.38" fill="#19d2f0"/>
<rect x="1072.44" y="886.09" width="10.39" height="10.38" fill="#19d2f0"/>
<rect x="1072.44" y="865.37" width="10.39" height="10.38" fill="#ff7300"/>
<rect x="1072.44" y="855.01" width="10.39" height="10.38" fill="#ff4600"/>
<rect x="1072.44" y="844.64" width="10.39" height="10.38" fill="#00faff"/>
<rect x="1072.44" y="834.28" width="10.39" height="10.38" fill="#19d2f0"/>
<rect x="1072.44" y="513.06" width="10.39" height="10.38" fill="#ff0a00"/>
<rect x="1072.44" y="502.70" width="10.39" height="10.38" fill="#ffa000"/>
<rect x="1072.44" y="481.97" width="10.39" height="10.38" fill="#ff7300"/>
<rect x="1072.44" y="471.61" width="10.39" height="10.38" fill="#ff7300"/>
<rect x="1082.81" y="906.82" width="10.39" height="10.38" fill="#ff7300"/>
<rect x="1082.81" y="896.45" width="10.39" height="10.38" fill="#32aadc"/>
<rect x="1082.81" y="886.09" width="10.39" height="10.38" fill="#00faff"/>
<rect x="1082.81" y="875.73" width="10.39" height="10.38" fill="#ff7300"/>
<rect x="1082.81" y="855.01" width="10.39" height="10.38" fill="#ff7300"/>
<rect x="1082.81" y="844.64" width="10.39" height="10.38" fill="#19d2f0"/>
<rect x="1082.81" y="834.28" width="10.39" height="10.38" fill="#19d2f0"/>
<rect x="1082.81" y="823.92" width="10.39" height="10.38" fill="#19d2f0"/>
<rect x="1082.81" y="513.06" width="10.39" height="10.38" fill="#ff7300"/>
<rect x="1082.81" y="471.61" width="10.39" height="10.38" fill="#ff7300"/>
<rect x="1093.18" y="906.82" width="10.39" height="10.38" fill="#19d2f0"/>
<rect x="1093.18" y="896.45" width="10.39" height="10.38" fill="#19d2f0"/>
<rect x="1093.18" y="886.09" width="10.39" height="10.38" fill="#ff7300"/>
<rect x="1093.18" y="875.73" width="10.39" height="10.38" fill="#ff4600"/>
<rect x="1093.18" y="865.37" width="10.39" height="10.38" fill="#ff7300"/>
<rect x="1093.18" y="844.64" width="10.39" height="10.38" fill="#19d2f0"/>
<rect x="1093.18" y="834.28" width="10.39" height="10.38" fill="#00faff"/>
<rect x="1093.18" y="823.92" width="10.39" height="10.38" fill="#ffa000"/>
<rect x="1103.54" y="875.73" width="10.39" height="10.38" fill="#00faff"/>
<rect x="1103.54" y="865.37" width="10.39" height="10.38" fill="#19d2f0"/>
<rect x="1103.54" y="855.01" width="10.39" height="10.38" fill="#19d2f0"/>
<rect x="1103.54" y="834.28" width="10.39" height="10.38" fill="#ff7300"/>
<rect x="1103.54" y="823.92" width="10.39" height="10.38" fill="#ff7300"/>
<rect x="1103.54" y="813.56" width="10.39" height="10.38" fill="#ff7300"/>
<rect x="1103.54" y="191.84" width="10.39" height="10.38" fill="#19d2f0"/>
<rect x="1103.54" y="181.48" width="10.39" height="10.38" fill="#19d2f0"/>
<rect x="1103.54" y="160.75" width="10.39" height="10.38" fill="#19d2f0"/>
<rect x="1103.54" y="150.39" width="10.39" height="10.38" fill="#19d2f0"/>
<rect x="1113.91" y="875.73" width="10.39" height="10.38" fill="#19d2f0"/>
<rect x="1113.91" y="865.37" width="10.39" height="10.38" fill="#19d2f0"/>
<rect x="1113.91" y="855.01" width="10.39" height="10.38" fill="#00faff"/>
<rect x="1113.91" y="844.64" width="10.39" height="10.38" fill="#ff7300"/>
<rect x="1113.91" y="823.92" width="10.39" height="10.38" fill="#ff7300"/>
<rect x="1113.91" y="813.56" width="10.39" height="10.38" fill="#ffa000"/>
<rect x="1113.91" y="803.20" width="10.39" height="10.38" fill="#ff7300"/>
<rect x="1113.91" y="792.83" width="10.39" height="10.38" fill="#ff7300"/>
<rect x="1113.91" y="440.53" width="10.39" height="10.38" fill="#19d2f0"/>
<rect x="1113.91" y="191.84" width="10.39" height="10.38" fill="#19d2f0"/>
<rect x="1124.27" y="1238.40" width="10.39" height="10.38" fill="#ffa000"/>
<rect x="1124.27" y="1186.59" width="10.39" height="10.38" fill="#19d2f0"/>
<rect x="1124.27" y="1072.61" width="10.39" height="10.38" fill="#ffa000"/>
<rect x="1124.27" y="865.37" width="10.39" height="10.38" fill="#19d2f0"/>
<rect x="1124.27" y="855.01" width="10.39" height="10.38" fill="#ffa000"/>
<rect x="1124.27" y="844.64" width="10.39" height="10.38" fill="#ff7300"/>
<rect x="1124.27" y="834.28" width="10.39" height="10.38" fill="#ff7300"/>
<rect x="1124.27" y="813.56" width="10.39" height="10.38" fill="#ff7300"/>
<rect x="1124.27" y="803.20" width="10.39" height="10.38" fill="#00faff"/>
<rect x="1124.27" y="792.83" width="10.39" height="10.38" fill="#00faff"/>
<rect x="1124.27" y="222.92" width="10.39" height="10.38" fill="#19d2f0"/>
<rect x="1124.27" y="191.84" width="10.39" height="10.38" fill="#19d2f0"/>
<rect x="1134.64" y="1248.76" width="10.39" height="10.38" fill="#19d2f0"/>
<rect x="1134.64" y="1238.40" width="10.39" height="10.38" fill="#32aadc"/>
<rect x="1134.64" y="1228.04" width="10.39" height="10.38" fill="#19d2f0"/>
<rect x="1134.64" y="1207.31" width="10.39" height="10.38" fill="#19d2f0"/>
<rect x="1134.64" y="1196.95" width="10.39" height="10.38" fill="#19d2f0"/>
<rect x="1134.64" y="1186.59" width="10.39" height="10.38" fill="#32aadc"/>
<rect x="1134.64" y="1176.23" width="10.39" height="10.38" fill="#4a86c6"/>
<rect x="1134.64" y="1155.50" width="10.39" height="10.38" fill="#19d2f0"/>
<rect x="1134.64" y="844.64" width="10.39" height="10.38" fill="#ff7300"/>
<rect x="1134.64" y="834.28" width="10.39" height="10.38" fill="#ffa000"/>
<rect x="1134.64" y="823.92" width="10.39" height="10.38" fill="#ff7300"/>
<rect x="1134.64" y="803.20" width="10.39" height="10.38" fill="#ff7300"/>
<rect x="1134.64" y="792.83" width="10.39" height="10.38" fill="#ff4600"/>
<rect x="1145.01" y="1445.64" width="10.39" height="10.38" fill="#19d2f0"/>
<rect x="1145.01" y="1414.55" width="10.39" height="10.38" fill="#ff7300"/>
<rect x="1145.01" y="1259.12" width="10.39" height="10.38" fill="#32aadc"/>
<rect x="1145.01" y="1248.76" width="10.39" height="10.38" fill="#32aadc"/>
<rect x="1145.01" y="1238.40" width="10.39" height="10.38" fill="#32aadc"/>
<rect x="1145.01" y="1228.04" width="10.39" height="10.38" fill="#19d2f0"/>
<rect x="1145.01" y="1062.25" width="10.39" height="10.38" fill="#ff7300"/>
<rect x="1145.01" y="1051.88" width="10.39" height="10.38" fill="#ff7300"/>
<rect x="1145.01" y="834.28" width="10.39" height="10.38" fill="#ff7300"/>
<rect x="1145.01" y="823.92" width="10.39" height="10.38" fill="#00faff"/>
<rect x="1145.01" y="813.56" width="10.39" height="10.38" fill="#ff7300"/>
<rect x="1145.01" y="792.83" width="10.39" height="10.38" fill="#ff7300"/>
<rect x="1145.01" y="782.47" width="10.39" height="10.38" fill="#ff4600"/>
<rect x="1145.01" y="440.53" width="10.39" height="10.38" fill="#4a86c6"/>
<rect x="1155.37" y="1549.26" width="10.39" height="10.38" fill="#32aadc"/>
<rect x="1155.37" y="1507.81" width="10.39" height="10.38" fill="#32aadc"/>
<rect x="1155.37" y="1445.64" width="10.39" height="10.38" fill="#19d2f0"/>
<rect x="1155.37" y="1414.55" width="10.39" height="10.38" fill="#ff7300"/>
<rect x="1155.37" y="1269.49" width="10.39" height="10.38" fill="#19d2f0"/>
<rect x="1155.37" y="1259.12" width="10.39" height="10.38" fill="#4a86c6"/>
<rect x="1155.37" y="1248.76" width="10.39" height="10.38" fill="#4a86c6"/>
<rect x="1155.37" y="1238.40" width="10.39" height="10.38" fill="#32aadc"/>
<rect x="1155.37" y="1228.04" width="10.39" height="10.38" fill="#19d2f0"/>
<rect x="1155.37" y="1062.25" width="10.39" height="10.38" fill="#ff7300"/>
<rect x="1155.37" y="1051.88" width="10.39" height="10.38" fill="#ff7300"/>
<rect x="1155.37" y="1041.52" width="10.39" height="10.38" fill="#ff4600"/>
<rect x="1155.37" y="834.28" width="10.39" height="10.38" fill="#ff7300"/>
<rect x="1155.37" y="823.92" width="10.39" height="10.38" fill="#00faff"/>
<rect x="1155.37" y="813.56" width="10.39" height="10.38" fill="#ff4600"/>
<rect x="1155.37" y="803.20" width="10.39" height="10.38" fill="#ff7300"/>
<rect x="1155.37" y="782.47" width="10.39" height="10.38" fill="#ff7300"/>
<rect x="1155.37" y="772.11" width="10.39" height="10.38" fill="#ff7300"/>
<rect x="1165.74" y="1549.26" width="10.39" height="10.38" fill="#4a86c6"/>
<rect x="1165.74" y="1507.81" width="10.39" height="10.38" fill="#32aadc"/>
<rect x="1165.74" y="1414.55" width="10.39" height="10.38" fill="#ff4600"/>
<rect x="1165.74" y="1404.19" width="10.39" height="10.38" fill="#ff4600"/>
<rect x="1165.74" y="1279.85" width="10.39" height="10.38" fill="#4a86c6"/>
<rect x="1165.74" y="1269.49" width="10.39" height="10.38" fill="#4a86c6"/>
<rect x="1165.74" y="1259.12" width="10.39" height="10.38" fill="#4a86c6"/>
<rect x="1165.74" y="1248.76" width="10.39" height="10.38" fill="#4a86c6"/>
<rect x="1165.74" y="1238.40" width="10.39" height="10.38" fill="#4a86c6"/>
<rect x="1165.74" y="1062.25" width="10.39" height="10.38" fill="#ff4600"/>
<rect x="1165.74" y="1051.88" width="10.39" height="10.38" fill="#ff0a00"/>
<rect x="1165.74" y="1041.52" width="10.39" height="10.38" fill="#ff0a00"/>
<rect x="1165.74" y="1031.16" width="10.39" height="10.38" fill="#ff0a00"/>
<rect x="1165.74" y="803.20" width="10.39" height="10.38" fill="#ff4600"/>
<rect x="1165.74" y="792.83" width="10.39" height="10.38" fill="#ff7300"/>
<rect x="1165.74" y="772.11" width="10.39" height="10.38" fill="#ff7300"/>
<rect x="1165.74" y="761.75" width="10.39" height="10.38" fill="#ff4600"/>
<rect x="1176.10" y="1559.62" width="10.39" height="10.38" fill="#00faff"/>
<rect x="1176.10" y="1549.26" width="10.39" height="10.38" fill="#4a86c6"/>
<rect x="1176.10" y="1518.17" width="10.39" height="10.38" fill="#19d2f0"/>
<rect x="1176.10" y="1393.83" width="10.39" height="10.38" fill="#ff0a00"/>
<rect x="1176.10" y="1290.21" width="10.39" height="10.38" fill="#4a86c6"/>
<rect x="1176.10" y="1279.85" width="10.39" height="10.38" fill="#4a86c6"/>
<rect x="1176.10" y="1269.49" width="10.39" height="10.38" fill="#4a86c6"/>
<rect x="1176.10" y="1259.12" width="10.39" height="10.38" fill="#4a86c6"/>
<rect x="1176.10" y="1248.76" width="10.39" height="10.38" fill="#4a86c6"/>
<rect x="1176.10" y="1051.88" width="10.39" height="10.38" fill="#ff4600"/>
<rect x="1176.10" y="1041.52" width="10.39" height="10.38" fill="#ff4600"/>
<rect x="1176.10" y="1031.16" width="10.39" height="10.38" fill="#ff4600"/>
<rect x="1176.10" y="1020.80" width="10.39" height="10.38" fill="#ff4600"/>
<rect x="1176.10" y="792.83" width="10.39" height="10.38" fill="#ff7300"/>
<rect x="1176.10" y="782.47" width="10.39" height="10.38" fill="#ff7300"/>
<rect x="1176.10" y="761.75" width="10.39" height="10.38" fill="#ff7300"/>
<rect x="1176.10" y="751.39" width="10.39" height="10.38" fill="#ff0a00"/>
<rect x="1176.10" y="741.02" width="10.39" height="10.38" fill="#ff0a00"/>
<rect x="1186.47" y="1383.47" width="10.39" height="10.38" fill="#ff0a00"/>
<rect x="1186.47" y="1373.11" width="10.39" height="10.38" fill="#ff0a00"/>
<rect x="1186.47" y="1300.57" width="10.39" height="10.38" fill="#4a86c6"/>
<rect x="1186.47" y="1290.21" width="10.39" height="10.38" fill="#4a86c6"/>
<rect x="1186.47" y="1279.85" width="10.39" height="10.38" fill="#4a86c6"/>
<rect x="1186.47" y="1269.49" width="10.39" height="10.38" fill="#4a86c6"/>
<rect x="1186.47" y="1259.12" width="10.39" height="10.38" fill="#4a86c6"/>
<rect x="1186.47" y="1041.52" width="10.39" height="10.38" fill="#ff4600"/>
<rect x="1186.47" y="1031.16" width="10.39" height="10.38" fill="#ff4600"/>
<rect x="1186.47" y="1020.80" width="10.39" height="10.38" fill="#ff4600"/>
<rect x="1186.47" y="1010.44" width="10.39" height="10.38" fill="#ff4600"/>
<rect x="1186.47" y="782.47" width="10.39" height="10.38" fill="#ff4600"/>
<rect x="1186.47" y="772.11" width="10.39" height="10.38" fill="#ff7300"/>
<rect x="1186.47" y="751.39" width="10.39" height="10.38" fill="#ff0a00"/>
<rect x="1186.47" y="741.02" width="10.39" height="10.38" fill="#ff0a00"/>
<rect x="1186.47" y="481.97" width="10.39" height="10.38" fill="#4a86c6"/>
<rect x="1196.84" y="1373.11" width="10.39" height="10.38" fill="#ff0a00"/>
<rect x="1196.84" y="1310.93" width="10.39" height="10.38" fill="#4a86c6"/>
<rect x="1196.84" y="1300.57" width="10.39" height="10.38" fill="#4a86c6"/>
<rect x="1196.84" y="1290.21" width="10.39" height="10.38" fill="#4a86c6"/>
<rect x="1196.84" y="1279.85" width="10.39" height="10.38" fill="#4a86c6"/>
<rect x="1196.84" y="1269.49" width="10.39" height="10.38" fill="#4a86c6"/>
<rect x="1196.84" y="1041.52" width="10.39" height="10.38" fill="#ff0a00"/>
<rect x="1196.84" y="1031.16" width="10.39" height="10.38" fill="#ff4600"/>
<rect x="1196.84" y="1020.80" width="10.39" height="10.38" fill="#ff4600"/>
<rect x="1196.84" y="1010.44" width="10.39" height="10.38" fill="#ff0a00"/>
<rect x="1196.84" y="1000.07" width="10.39" height="10.38" fill="#00faff"/>
<rect x="1196.84" y="772.11" width="10.39" height="10.38" fill="#ff0a00"/>
<rect x="1196.84" y="761.75" width="10.39" height="10.38" fill="#ff0a00"/>
<rect x="1196.84" y="741.02" width="10.39" height="10.38" fill="#ff7300"/>
<rect x="1196.84" y="730.66" width="10.39" height="10.38" fill="#ff7300"/>
<rect x="1196.84" y="720.30" width="10.39" height="10.38" fill="#19d2f0"/>
<rect x="1196.84" y="709.94" width="10.39" height="10.38" fill="#19d2f0"/>
<rect x="1207.20" y="1362.74" width="10.39" height="10.38" fill="#ff0a00"/>
<rect x="1207.20" y="1321.30" width="10.39" height="10.38" fill="#19d2f0"/>
<rect x="1207.20" y="1310.93" width="10.39" height="10.38" fill="#32aadc"/>
<rect x="1207.20" y="1300.57" width="10.39" height="10.38" fill="#4a86c6"/>
<rect x="1207.20" y="1290.21" width="10.39" height="10.38" fill="#4a86c6"/>
<rect x="1207.20" y="1279.85" width="10.39" height="10.38" fill="#4a86c6"/>
<rect x="1207.20" y="1031.16" width="10.39" height="10.38" fill="#ff4600"/>
<rect x="1207.20" y="1020.80" width="10.39" height="10.38" fill="#ff4600"/>
<rect x="1207.20" y="1010.44" width="10.39" height="10.38" fill="#ff4600"/>
<rect x="1207.20" y="1000.07" width="10.39" height="10.38" fill="#00faff"/>
<rect x="1207.20" y="772.11" width="10.39" height="10.38" fill="#ff0a00"/>
<rect x="1207.20" y="761.75" width="10.39" height="10.38" fill="#ff0a00"/>
<rect x="1207.20" y="751.39" width="10.39" height="10.38" fill="#ff7300"/>
<rect x="1207.20" y="730.66" width="10.39" height="10.38" fill="#ff7300"/>
<rect x="1207.20" y="720.30" width="10.39" height="10.38" fill="#19d2f0"/>
<rect x="1207.20" y="709.94" width="10.39" height="10.38" fill="#19d2f0"/>
<rect x="1207.20" y="523.42" width="10.39" height="10.38" fill="#4a86c6"/>
<rect x="1217.57" y="1321.30" width="10.39" height="10.38" fill="#19d2f0"/>
<rect x="1217.57" y="1310.93" width="10.39" height="10.38" fill="#32aadc"/>
<rect x="1217.57" y="1300.57" width="10.39" height="10.38" fill="#4a86c6"/>
<rect x="1217.57" y="1290.21" width="10.39" height="10.38" fill="#4a86c6"/>
<rect x="1217.57" y="1010.44" width="10.39" height="10.38" fill="#ff4600"/>
<rect x="1217.57" y="1000.07" width="10.39" height="10.38" fill="#00faff"/>
<rect x="1217.57" y="751.39" width="10.39" height="10.38" fill="#ff7300"/>
<rect x="1217.57" y="741.02" width="10.39" height="10.38" fill="#ff7300"/>
<rect x="1217.57" y="720.30" width="10.39" height="10.38" fill="#ff7300"/>
<rect x="1217.57" y="709.94" width="10.39" height="10.38" fill="#00faff"/>
<rect x="1217.57" y="699.58" width="10.39" height="10.38" fill="#ffa000"/>
<rect x="1227.93" y="1321.30" width="10.39" height="10.38" fill="#19d2f0"/>
<rect x="1227.93" y="1310.93" width="10.39" height="10.38" fill="#19d2f0"/>
<rect x="1227.93" y="1300.57" width="10.39" height="10.38" fill="#19d2f0"/>
<rect x="1227.93" y="751.39" width="10.39" height="10.38" fill="#19d2f0"/>
<rect x="1227.93" y="741.02" width="10.39" height="10.38" fill="#19d2f0"/>
<rect x="1227.93" y="730.66" width="10.39" height="10.38" fill="#ff7300"/>
<rect x="1227.93" y="709.94" width="10.39" height="10.38" fill="#ff7300"/>
<rect x="1227.93" y="699.58" width="10.39" height="10.38" fill="#ffa000"/>
<rect x="1227.93" y="689.21" width="10.39" height="10.38" fill="#ff4600"/>
<rect x="1227.93" y="564.87" width="10.39" height="10.38" fill="#19d2f0"/>
<rect x="1238.30" y="1321.30" width="10.39" height="10.38" fill="#19d2f0"/>
<rect x="1238.30" y="1010.44" width="10.39" height="10.38" fill="#19d2f0"/>
<rect x="1238.30" y="751.39" width="10.39" height="10.38" fill="#19d2f0"/>
<rect x="1238.30" y="741.02" width="10.39" height="10.38" fill="#19d2f0"/>
<rect x="1238.30" y="730.66" width="10.39" height="10.38" fill="#00faff"/>
<rect x="1238.30" y="720.30" width="10.39" height="10.38" fill="#ff7300"/>
<rect x="1238.30" y="699.58" width="10.39" height="10.38" fill="#ff7300"/>
<rect x="1238.30" y="689.21" width="10.39" height="10.38" fill="#ff4600"/>
<rect x="1238.30" y="678.85" width="10.39" height="10.38" fill="#ff4600"/>
<rect x="1238.30" y="585.59" width="10.39" height="10.38" fill="#4a86c6"/>
<rect x="1238.30" y="564.87" width="10.39" height="10.38" fill="#00faff"/>
<rect x="1238.30" y="554.51" width="10.39" height="10.38" fill="#ffa000"/>
<rect x="1248.67" y="730.66" width="10.39" height="10.38" fill="#ffa000"/>
<rect x="1248.67" y="720.30" width="10.39" height="10.38" fill="#ffa000"/>
<rect x="1248.67" y="709.94" width="10.39" height="10.38" fill="#ff7300"/>
<rect x="1248.67" y="689.21" width="10.39" height="10.38" fill="#ff7300"/>
<rect x="1248.67" y="678.85" width="10.39" height="10.38" fill="#ffa000"/>
<rect x="1248.67" y="668.49" width="10.39" height="10.38" fill="#ffa000"/>
<rect x="1248.67" y="616.68" width="10.39" height="10.38" fill="#32aadc"/>
<rect x="1248.67" y="585.59" width="10.39" height="10.38" fill="#4a86c6"/>
<rect x="1259.03" y="720.30" width="10.39" height="10.38" fill="#ff4600"/>
<rect x="1259.03" y="709.94" width="10.39" height="10.38" fill="#ff4600"/>
<rect x="1259.03" y="699.58" width="10.39" height="10.38" fill="#ff7300"/>
<rect x="1259.03" y="678.85" width="10.39" height="10.38" fill="#ff7300"/>
<rect x="1259.03" y="668.49" width="10.39" height="10.38" fill="#ffa000"/>
<rect x="1259.03" y="658.13" width="10.39" height="10.38" fill="#19d2f0"/>
<rect x="1259.03" y="616.68" width="10.39" height="10.38" fill="#32aadc"/>
<rect x="1269.40" y="709.94" width="10.39" height="10.38" fill="#ff4600"/>
<rect x="1269.40" y="699.58" width="10.39" height="10.38" fill="#ffa000"/>
<rect x="1269.40" y="689.21" width="10.39" height="10.38" fill="#ff7300"/>
<rect x="1269.40" y="668.49" width="10.39" height="10.38" fill="#ff7300"/>
<rect x="1269.40" y="658.13" width="10.39" height="10.38" fill="#00faff"/>
<rect x="1269.40" y="647.77" width="10.39" height="10.38" fill="#00faff"/>
<rect x="1269.40" y="627.04" width="10.39" height="10.38" fill="#32aadc"/>
<rect x="1269.40" y="616.68" width="10.39" height="10.38" fill="#32aadc"/>
<rect x="1279.76" y="699.58" width="10.39" height="10.38" fill="#ffa000"/>
<rect x="1279.76" y="689.21" width="10.39" height="10.38" fill="#ffa000"/>
<rect x="1279.76" y="678.85" width="10.39" height="10.38" fill="#ff7300"/>
<rect x="1279.76" y="658.13" width="10.39" height="10.38" fill="#ff7300"/>
<rect x="1279.76" y="647.77" width="10.39" height="10.38" fill="#ffa000"/>
<rect x="1279.76" y="637.40" width="10.39" height="10.38" fill="#19d2f0"/>
<rect x="1279.76" y="627.04" width="10.39" height="10.38" fill="#32aadc"/>
<rect x="1290.13" y="689.21" width="10.39" height="10.38" fill="#19d2f0"/>
<rect x="1290.13" y="678.85" width="10.39" height="10.38" fill="#00faff"/>
<rect x="1290.13" y="668.49" width="10.39" height="10.38" fill="#ff7300"/>
<rect x="1290.13" y="647.77" width="10.39" height="10.38" fill="#ff7300"/>
<rect x="1290.13" y="637.40" width="10.39" height="10.38" fill="#19d2f0"/>
<rect x="1290.13" y="627.04" width="10.39" height="10.38" fill="#19d2f0"/>
<rect x="1290.13" y="616.68" width="10.39" height="10.38" fill="#ff7300"/>
<rect x="1300.50" y="678.85" width="10.39" height="10.38" fill="#00faff"/>
<rect x="1300.50" y="668.49" width="10.39" height="10.38" fill="#ffa000"/>
<rect x="1300.50" y="658.13" width="10.39" height="10.38" fill="#ff7300"/>
<rect x="1300.50" y="637.40" width="10.39" height="10.38" fill="#19d2f0"/>
<rect x="1300.50" y="627.04" width="10.39" height="10.38" fill="#19d2f0"/>
<rect x="1300.50" y="616.68" width="10.39" height="10.38" fill="#ff7300"/>
<rect x="1310.86" y="668.49" width="10.39" height="10.38" fill="#19d2f0"/>
<rect x="1310.86" y="658.13" width="10.39" height="10.38" fill="#19d2f0"/>
<rect x="1310.86" y="647.77" width="10.39" height="10.38" fill="#19d2f0"/>
<rect x="1310.86" y="627.04" width="10.39" height="10.38" fill="#ff7300"/>
<rect x="1310.86" y="616.68" width="10.39" height="10.38" fill="#19d2f0"/>
<rect x="1310.86" y="606.32" width="10.39" height="10.38" fill="#ff7300"/>
<rect x="1321.23" y="678.85" width="10.39" height="10.38" fill="#32aadc"/>
<rect x="1321.23" y="668.49" width="10.39" height="10.38" fill="#32aadc"/>
<rect x="1321.23" y="658.13" width="10.39" height="10.38" fill="#19d2f0"/>
<rect x="1321.23" y="647.77" width="10.39" height="10.38" fill="#19d2f0"/>
<rect x="1321.23" y="637.40" width="10.39" height="10.38" fill="#ff7300"/>
<rect x="1321.23" y="616.68" width="10.39" height="10.38" fill="#ff7300"/>
<rect x="1321.23" y="606.32" width="10.39" height="10.38" fill="#00faff"/>
<rect x="1321.23" y="595.96" width="10.39" height="10.38" fill="#ff7300"/>
<rect x="1331.59" y="699.58" width="10.39" height="10.38" fill="#32aadc"/>
<rect x="1331.59" y="689.21" width="10.39" height="10.38" fill="#32aadc"/>
<rect x="1331.59" y="678.85" width="10.39" height="10.38" fill="#32aadc"/>
<rect x="1331.59" y="658.13" width="10.39" height="10.38" fill="#ff7300"/>
<rect x="1331.59" y="647.77" width="10.39" height="10.38" fill="#ff7300"/>
<rect x="1331.59" y="637.40" width="10.39" height="10.38" fill="#19d2f0"/>
<rect x="1331.59" y="627.04" width="10.39" height="10.38" fill="#ff7300"/>
<rect x="1331.59" y="606.32" width="10.39" height="10.38" fill="#ff7300"/>
<rect x="1331.59" y="595.96" width="10.39" height="10.38" fill="#19d2f0"/>
<rect x="1331.59" y="585.59" width="10.39" height="10.38" fill="#ff7300"/>
<rect x="1341.96" y="637.40" width="10.39" height="10.38" fill="#ff7300"/>
<rect x="1341.96" y="627.04" width="10.39" height="10.38" fill="#00faff"/>
<rect x="1341.96" y="616.68" width="10.39" height="10.38" fill="#ff7300"/>
<rect x="1341.96" y="595.96" width="10.39" height="10.38" fill="#ff7300"/>
<rect x="1341.96" y="585.59" width="10.39" height="10.38" fill="#00faff"/>
<rect x="1341.96" y="575.23" width="10.39" height="10.38" fill="#19d2f0"/>
<rect x="1341.96" y="554.51" width="10.39" height="10.38" fill="#ff7300"/>
<rect x="1352.33" y="627.04" width="10.39" height="10.38" fill="#ff7300"/>
<rect x="1352.33" y="616.68" width="10.39" height="10.38" fill="#19d2f0"/>
<rect x="1352.33" y="606.32" width="10.39" height="10.38" fill="#ff7300"/>
<rect x="1352.33" y="585.59" width="10.39" height="10.38" fill="#ff7300"/>
<rect x="1352.33" y="575.23" width="10.39" height="10.38" fill="#ffa000"/>
<rect x="1352.33" y="564.87" width="10.39" height="10.38" fill="#32aadc"/>
<rect x="1352.33" y="554.51" width="10.39" height="10.38" fill="#19d2f0"/>
<rect x="1352.33" y="544.15" width="10.39" height="10.38" fill="#ff4600"/>
<rect x="1362.69" y="709.94" width="10.39" height="10.38" fill="#4a86c6"/>
<rect x="1362.69" y="699.58" width="10.39" height="10.38" fill="#4a86c6"/>
<rect x="1362.69" y="616.68" width="10.39" height="10.38" fill="#ff7300"/>
<rect x="1362.69" y="606.32" width="10.39" height="10.38" fill="#00faff"/>
<rect x="1362.69" y="595.96" width="10.39" height="10.38" fill="#ff7300"/>
<rect x="1362.69" y="575.23" width="10.39" height="10.38" fill="#ff7300"/>
<rect x="1362.69" y="564.87" width="10.39" height="10.38" fill="#19d2f0"/>
<rect x="1362.69" y="554.51" width="10.39" height="10.38" fill="#19d2f0"/>
<rect x="1362.69" y="544.15" width="10.39" height="10.38" fill="#ff4600"/>
<rect x="1362.69" y="533.78" width="10.39" height="10.38" fill="#ffa000"/>
<rect x="1373.06" y="606.32" width="10.39" height="10.38" fill="#19d2f0"/>
<rect x="1373.06" y="595.96" width="10.39" height="10.38" fill="#ffa000"/>
<rect x="1373.06" y="585.59" width="10.39" height="10.38" fill="#ff7300"/>
<rect x="1373.06" y="564.87" width="10.39" height="10.38" fill="#19d2f0"/>
<rect x="1373.06" y="554.51" width="10.39" height="10.38" fill="#19d2f0"/>
<rect x="1373.06" y="544.15" width="10.39" height="10.38" fill="#ff7300"/>
<rect x="1373.06" y="533.78" width="10.39" height="10.38" fill="#ff4600"/>
<rect x="1373.06" y="523.42" width="10.39" height="10.38" fill="#19d2f0"/>
<rect x="1373.06" y="513.06" width="10.39" height="10.38" fill="#19d2f0"/>
<rect x="1383.42" y="1331.66" width="10.39" height="10.38" fill="#ffa000"/>
<rect x="1383.42" y="1321.30" width="10.39" height="10.38" fill="#ff4600"/>
<rect x="1383.42" y="720.30" width="10.39" height="10.38" fill="#19d2f0"/>
<rect x="1383.42" y="709.94" width="10.39" height="10.38" fill="#00faff"/>
<rect x="1383.42" y="595.96" width="10.39" height="10.38" fill="#32aadc"/>
<rect x="1383.42" y="585.59" width="10.39" height="10.38" fill="#19d2f0"/>
<rect x="1383.42" y="575.23" width="10.39" height="10.38" fill="#19d2f0"/>
<rect x="1383.42" y="554.51" width="10.39" height="10.38" fill="#ff7300"/>
<rect x="1383.42" y="544.15" width="10.39" height="10.38" fill="#19d2f0"/>
<rect x="1383.42" y="533.78" width="10.39" height="10.38" fill="#ff7300"/>
<rect x="1383.42" y="523.42" width="10.39" height="10.38" fill="#ff4600"/>
<rect x="1383.42" y="513.06" width="10.39" height="10.38" fill="#19d2f0"/>
<rect x="1393.79" y="886.09" width="10.39" height="10.38" fill="#ffa000"/>
<rect x="1393.79" y="709.94" width="10.39" height="10.38" fill="#ffa000"/>
<rect x="1393.79" y="606.32" width="10.39" height="10.38" fill="#ff7300"/>
<rect x="1393.79" y="595.96" width="10.39" height="10.38" fill="#19d2f0"/>
<rect x="1393.79" y="585.59" width="10.39" height="10.38" fill="#19d2f0"/>
<rect x="1393.79" y="575.23" width="10.39" height="10.38" fill="#19d2f0"/>
<rect x="1393.79" y="564.87" width="10.39" height="10.38" fill="#ff7300"/>
<rect x="1393.79" y="544.15" width="10.39" height="10.38" fill="#ff7300"/>
<rect x="1393.79" y="533.78" width="10.39" height="10.38" fill="#19d2f0"/>
<rect x="1393.79" y="523.42" width="10.39" height="10.38" fill="#ff7300"/>
<rect x="1393.79" y="513.06" width="10.39" height="10.38" fill="#ff4600"/>
<rect x="1393.79" y="502.70" width="10.39" height="10.38" fill="#19d2f0"/>
<rect x="1393.79" y="492.34" width="10.39" height="10.38" fill="#19d2f0"/>
<rect x="1404.16" y="886.09" width="10.39" height="10.38" fill="#ff7300"/>
<rect x="1404.16" y="595.96" width="10.39" height="10.38" fill="#ff4600"/>
<rect x="1404.16" y="585.59" width="10.39" height="10.38" fill="#ff4600"/>
<rect x="1404.16" y="575.23" width="10.39" height="10.38" fill="#ff7300"/>
<rect x="1404.16" y="564.87" width="10.39" height="10.38" fill="#19d2f0"/>
<rect x="1404.16" y="554.51" width="10.39" height="10.38" fill="#ff7300"/>
<rect x="1404.16" y="533.78" width="10.39" height="10.38" fill="#ff7300"/>
<rect x="1404.16" y="523.42" width="10.39" height="10.38" fill="#19d2f0"/>
<rect x="1404.16" y="513.06" width="10.39" height="10.38" fill="#ff7300"/>
<rect x="1404.16" y="502.70" width="10.39" height="10.38" fill="#ff4600"/>
<rect x="1404.16" y="492.34" width="10.39" height="10.38" fill="#19d2f0"/>
<rect x="1414.52" y="585.59" width="10.39" height="10.38" fill="#ffa000"/>
<rect x="1414.52" y="575.23" width="10.39" height="10.38" fill="#ff4600"/>
<rect x="1414.52" y="564.87" width="10.39" height="10.38" fill="#ff7300"/>
<rect x="1414.52" y="554.51" width="10.39" height="10.38" fill="#19d2f0"/>
<rect x="1414.52" y="544.15" width="10.39" height="10.38" fill="#ff7300"/>
<rect x="1414.52" y="523.42" width="10.39" height="10.38" fill="#ff7300"/>
<rect x="1414.52" y="513.06" width="10.39" height="10.38" fill="#19d2f0"/>
<rect x="1414.52" y="502.70" width="10.39" height="10.38" fill="#ff7300"/>
<rect x="1414.52" y="492.34" width="10.39" height="10.38" fill="#ff4600"/>
<rect x="1414.52" y="481.97" width="10.39" height="10.38" fill="#19d2f0"/>
<rect x="1424.89" y="1362.74" width="10.39" height="10.38" fill="#32aadc"/>
<rect x="1424.89" y="1352.38" width="10.39" height="10.38" fill="#32aadc"/>
<rect x="1424.89" y="1321.30" width="10.39" height="10.38" fill="#ff4600"/>
<rect x="1424.89" y="1310.93" width="10.39" height="10.38" fill="#ff4600"/>
<rect x="1424.89" y="1300.57" width="10.39" height="10.38" fill="#ff4600"/>
<rect x="1424.89" y="886.09" width="10.39" height="10.38" fill="#ffa000"/>
<rect x="1424.89" y="741.02" width="10.39" height="10.38" fill="#4a86c6"/>
<rect x="1424.89" y="575.23" width="10.39" height="10.38" fill="#19d2f0"/>
<rect x="1424.89" y="564.87" width="10.39" height="10.38" fill="#ff4600"/>
<rect x="1424.89" y="554.51" width="10.39" height="10.38" fill="#ff7300"/>
<rect x="1424.89" y="544.15" width="10.39" height="10.38" fill="#19d2f0"/>
<rect x="1424.89" y="533.78" width="10.39" height="10.38" fill="#ff7300"/>
<rect x="1424.89" y="513.06" width="10.39" height="10.38" fill="#ff7300"/>
<rect x="1424.89" y="502.70" width="10.39" height="10.38" fill="#19d2f0"/>
<rect x="1424.89" y="492.34" width="10.39" height="10.38" fill="#ff7300"/>
<rect x="1424.89" y="481.97" width="10.39" height="10.38" fill="#ff4600"/>
<rect x="1424.89" y="471.61" width="10.39" height="10.38" fill="#19d2f0"/>
<rect x="1424.89" y="461.25" width="10.39" height="10.38" fill="#19d2f0"/>
<rect x="1435.25" y="896.45" width="10.39" height="10.38" fill="#19d2f0"/>
<rect x="1435.25" y="886.09" width="10.39" height="10.38" fill="#ffa000"/>
<rect x="1435.25" y="875.73" width="10.39" height="10.38" fill="#ff0a00"/>
<rect x="1435.25" y="865.37" width="10.39" height="10.38" fill="#ff7300"/>
<rect x="1435.25" y="575.23" width="10.39" height="10.38" fill="#19d2f0"/>
<rect x="1435.25" y="564.87" width="10.39" height="10.38" fill="#19d2f0"/>
<rect x="1435.25" y="554.51" width="10.39" height="10.38" fill="#ff4600"/>
<rect x="1435.25" y="544.15" width="10.39" height="10.38" fill="#ff7300"/>
<rect x="1435.25" y="533.78" width="10.39" height="10.38" fill="#19d2f0"/>
<rect x="1435.25" y="523.42" width="10.39" height="10.38" fill="#ff7300"/>
<rect x="1435.25" y="502.70" width="10.39" height="10.38" fill="#ff7300"/>
<rect x="1435.25" y="492.34" width="10.39" height="10.38" fill="#19d2f0"/>
<rect x="1435.25" y="481.97" width="10.39" height="10.38" fill="#ff7300"/>
<rect x="1435.25" y="471.61" width="10.39" height="10.38" fill="#ff4600"/>
<rect x="1435.25" y="461.25" width="10.39" height="10.38" fill="#19d2f0"/>
<rect x="1445.62" y="886.09" width="10.39" height="10.38" fill="#ff4600"/>
<rect x="1445.62" y="875.73" width="10.39" height="10.38" fill="#ffa000"/>
<rect x="1445.62" y="554.51" width="10.39" height="10.38" fill="#19d2f0"/>
<rect x="1445.62" y="544.15" width="10.39" height="10.38" fill="#ff4600"/>
<rect x="1445.62" y="533.78" width="10.39" height="10.38" fill="#ff7300"/>
<rect x="1445.62" y="523.42" width="10.39" height="10.38" fill="#19d2f0"/>
<rect x="1445.62" y="513.06" width="10.39" height="10.38" fill="#ff7300"/>
<rect x="1445.62" y="492.34" width="10.39" height="10.38" fill="#ff7300"/>
<rect x="1445.62" y="481.97" width="10.39" height="10.38" fill="#19d2f0"/>
<rect x="1445.62" y="471.61" width="10.39" height="10.38" fill="#ff7300"/>
<rect x="1445.62" y="461.25" width="10.39" height="10.38" fill="#ff4600"/>
<rect x="1445.62" y="450.89" width="10.39" height="10.38" fill="#19d2f0"/>
<rect x="1455.99" y="1383.47" width="10.39" height="10.38" fill="#32aadc"/>
<rect x="1455.99" y="1362.74" width="10.39" height="10.38" fill="#4a86c6"/>
<rect x="1455.99" y="554.51" width="10.39" height="10.38" fill="#19d2f0"/>
<rect x="1455.99" y="544.15" width="10.39" height="10.38" fill="#19d2f0"/>
<rect x="1455.99" y="533.78" width="10.39" height="10.38" fill="#ff4600"/>
<rect x="1455.99" y="523.42" width="10.39" height="10.38" fill="#ff7300"/>
<rect x="1455.99" y="513.06" width="10.39" height="10.38" fill="#19d2f0"/>
<rect x="1455.99" y="502.70" width="10.39" height="10.38" fill="#ff7300"/>
<rect x="1455.99" y="481.97" width="10.39" height="10.38" fill="#ff7300"/>
<rect x="1455.99" y="471.61" width="10.39" height="10.38" fill="#19d2f0"/>
<rect x="1455.99" y="461.25" width="10.39" height="10.38" fill="#ff7300"/>
<rect x="1455.99" y="450.89" width="10.39" height="10.38" fill="#ff4600"/>
<rect x="1455.99" y="440.53" width="10.39" height="10.38" fill="#19d2f0"/>
<rect x="1466.35" y="1383.47" width="10.39" height="10.38" fill="#4a86c6"/>
<rect x="1466.35" y="1290.21" width="10.39" height="10.38" fill="#ff4600"/>
<rect x="1466.35" y="1279.85" width="10.39" height="10.38" fill="#ff4600"/>
<rect x="1466.35" y="1269.49" width="10.39" height="10.38" fill="#ff4600"/>
<rect x="1466.35" y="1259.12" width="10.39" height="10.38" fill="#ff0a00"/>
<rect x="1466.35" y="875.73" width="10.39" height="10.38" fill="#ff7300"/>
<rect x="1466.35" y="761.75" width="10.39" height="10.38" fill="#4a86c6"/>
<rect x="1466.35" y="533.78" width="10.39" height="10.38" fill="#19d2f0"/>
<rect x="1466.35" y="523.42" width="10.39" height="10.38" fill="#ff4600"/>
<rect x="1466.35" y="513.06" width="10.39" height="10.38" fill="#ff7300"/>
<rect x="1466.35" y="502.70" width="10.39" height="10.38" fill="#19d2f0"/>
<rect x="1466.35" y="492.34" width="10.39" height="10.38" fill="#ff7300"/>
<rect x="1466.35" y="471.61" width="10.39" height="10.38" fill="#ff7300"/>
<rect x="1466.35" y="461.25" width="10.39" height="10.38" fill="#19d2f0"/>
<rect x="1466.35" y="450.89" width="10.39" height="10.38" fill="#ff7300"/>
<rect x="1466.35" y="440.53" width="10.39" height="10.38" fill="#ff4600"/>
<rect x="1466.35" y="430.16" width="10.39" height="10.38" fill="#19d2f0"/>
<rect x="1466.35" y="419.80" width="10.39" height="10.38" fill="#19d2f0"/>
<rect x="1476.72" y="875.73" width="10.39" height="10.38" fill="#ff7300"/>
<rect x="1476.72" y="865.37" width="10.39" height="10.38" fill="#ff7300"/>
<rect x="1476.72" y="523.42" width="10.39" height="10.38" fill="#19d2f0"/>
<rect x="1476.72" y="513.06" width="10.39" height="10.38" fill="#ff4600"/>
<rect x="1476.72" y="502.70" width="10.39" height="10.38" fill="#ff7300"/>
<rect x="1476.72" y="492.34" width="10.39" height="10.38" fill="#19d2f0"/>
<rect x="1476.72" y="481.97" width="10.39" height="10.38" fill="#ff7300"/>
<rect x="1476.72" y="461.25" width="10.39" height="10.38" fill="#ff7300"/>
<rect x="1476.72" y="450.89" width="10.39" height="10.38" fill="#19d2f0"/>
<rect x="1476.72" y="440.53" width="10.39" height="10.38" fill="#ff7300"/>
<rect x="1476.72" y="430.16" width="10.39" height="10.38" fill="#ff4600"/>
<rect x="1476.72" y="419.80" width="10.39" height="10.38" fill="#19d2f0"/>
<rect x="1487.08" y="523.42" width="10.39" height="10.38" fill="#19d2f0"/>
<rect x="1487.08" y="513.06" width="10.39" height="10.38" fill="#19d2f0"/>
<rect x="1487.08" y="502.70" width="10.39" height="10.38" fill="#ff4600"/>
<rect x="1487.08" y="492.34" width="10.39" height="10.38" fill="#ff7300"/>
<rect x="1487.08" y="481.97" width="10.39" height="10.38" fill="#19d2f0"/>
<rect x="1487.08" y="471.61" width="10.39" height="10.38" fill="#ff7300"/>
<rect x="1487.08" y="450.89" width="10.39" height="10.38" fill="#ff7300"/>
<rect x="1487.08" y="440.53" width="10.39" height="10.38" fill="#19d2f0"/>
<rect x="1487.08" y="430.16" width="10.39" height="10.38" fill="#ff7300"/>
<rect x="1487.08" y="419.80" width="10.39" height="10.38" fill="#ff4600"/>
<rect x="1487.08" y="409.44" width="10.39" height="10.38" fill="#19d2f0"/>
<rect x="1487.08" y="399.08" width="10.39" height="10.38" fill="#19d2f0"/>
<rect x="1497.45" y="1404.19" width="10.39" height="10.38" fill="#32aadc"/>
<rect x="1497.45" y="1383.47" width="10.39" height="10.38" fill="#4a86c6"/>
<rect x="1497.45" y="502.70" width="10.39" height="10.38" fill="#19d2f0"/>
<rect x="1497.45" y="492.34" width="10.39" height="10.38" fill="#ff4600"/>
<rect x="1497.45" y="481.97" width="10.39" height="10.38" fill="#ff7300"/>
<rect x="1497.45" y="471.61" width="10.39" height="10.38" fill="#19d2f0"/>
<rect x="1497.45" y="461.25" width="10.39" height="10.38" fill="#ff7300"/>
<rect x="1497.45" y="440.53" width="10.39" height="10.38" fill="#ff7300"/>
<rect x="1497.45" y="430.16" width="10.39" height="10.38" fill="#19d2f0"/>
<rect x="1497.45" y="419.80" width="10.39" height="10.38" fill="#ff7300"/>
<rect x="1497.45" y="409.44" width="10.39" height="10.38" fill="#ff4600"/>
<rect x="1497.45" y="399.08" width="10.39" height="10.38" fill="#19d2f0"/>
<rect x="1497.45" y="388.72" width="10.39" height="10.38" fill="#19d2f0"/>
<rect x="1507.82" y="1404.19" width="10.39" height="10.38" fill="#32aadc"/>
<rect x="1507.82" y="1269.49" width="10.39" height="10.38" fill="#ff4600"/>
<rect x="1507.82" y="1259.12" width="10.39" height="10.38" fill="#ff4600"/>
<rect x="1507.82" y="834.28" width="10.39" height="10.38" fill="#19d2f0"/>
<rect x="1507.82" y="803.20" width="10.39" height="10.38" fill="#4a86c6"/>
<rect x="1507.82" y="492.34" width="10.39" height="10.38" fill="#19d2f0"/>
<rect x="1507.82" y="481.97" width="10.39" height="10.38" fill="#ff4600"/>
<rect x="1507.82" y="471.61" width="10.39" height="10.38" fill="#ff7300"/>
<rect x="1507.82" y="461.25" width="10.39" height="10.38" fill="#19d2f0"/>
<rect x="1507.82" y="450.89" width="10.39" height="10.38" fill="#ff7300"/>
<rect x="1507.82" y="430.16" width="10.39" height="10.38" fill="#ff7300"/>
<rect x="1507.82" y="419.80" width="10.39" height="10.38" fill="#19d2f0"/>
<rect x="1507.82" y="409.44" width="10.39" height="10.38" fill="#ff7300"/>
<rect x="1507.82" y="399.08" width="10.39" height="10.38" fill="#ff4600"/>
<rect x="1507.82" y="388.72" width="10.39" height="10.38" fill="#19d2f0"/>
<rect x="1518.18" y="481.97" width="10.39" height="10.38" fill="#19d2f0"/>
<rect x="1518.18" y="471.61" width="10.39" height="10.38" fill="#ff4600"/>
<rect x="1518.18" y="461.25" width="10.39" height="10.38" fill="#ff7300"/>
<rect x="1518.18" y="450.89" width="10.39" height="10.38" fill="#19d2f0"/>
<rect x="1518.18" y="440.53" width="10.39" height="10.38" fill="#ff7300"/>
<rect x="1518.18" y="419.80" width="10.39" height="10.38" fill="#ff7300"/>
<rect x="1518.18" y="409.44" width="10.39" height="10.38" fill="#19d2f0"/>
<rect x="1518.18" y="399.08" width="10.39" height="10.38" fill="#ff7300"/>
<rect x="1518.18" y="388.72" width="10.39" height="10.38" fill="#ff4600"/>
<rect x="1518.18" y="378.35" width="10.39" height="10.38" fill="#19d2f0"/>
<rect x="1518.18" y="367.99" width="10.39" height="10.38" fill="#19d2f0"/>
<rect x="1528.55" y="481.97" width="10.39" height="10.38" fill="#19d2f0"/>
<rect x="1528.55" y="471.61" width="10.39" height="10.38" fill="#19d2f0"/>
<rect x="1528.55" y="461.25" width="10.39" height="10.38" fill="#ff4600"/>
<rect x="1528.55" y="450.89" width="10.39" height="10.38" fill="#ff7300"/>
<rect x="1528.55" y="440.53" width="10.39" height="10.38" fill="#19d2f0"/>
<rect x="1528.55" y="430.16" width="10.39" height="10.38" fill="#ff7300"/>
<rect x="1528.55" y="409.44" width="10.39" height="10.38" fill="#ff7300"/>
<rect x="1528.55" y="399.08" width="10.39" height="10.38" fill="#19d2f0"/>
<rect x="1528.55" y="388.72" width="10.39" height="10.38" fill="#ff7300"/>
<rect x="1528.55" y="378.35" width="10.39" height="10.38" fill="#ff4600"/>
<rect x="1528.55" y="367.99" width="10.39" height="10.38" fill="#19d2f0"/>
<rect x="1528.55" y="357.63" width="10.39" height="10.38" fill="#19d2f0"/>
<rect x="1538.91" y="1424.92" width="10.39" height="10.38" fill="#4a86c6"/>
<rect x="1538.91" y="1414.55" width="10.39" height="10.38" fill="#4a86c6"/>
<rect x="1538.91" y="1404.19" width="10.39" height="10.38" fill="#4a86c6"/>
<rect x="1538.91" y="1259.12" width="10.39" height="10.38" fill="#ff4600"/>
<rect x="1538.91" y="461.25" width="10.39" height="10.38" fill="#19d2f0"/>
<rect x="1538.91" y="450.89" width="10.39" height="10.38" fill="#ff4600"/>
<rect x="1538.91" y="440.53" width="10.39" height="10.38" fill="#ff7300"/>
<rect x="1538.91" y="430.16" width="10.39" height="10.38" fill="#19d2f0"/>
<rect x="1538.91" y="419.80" width="10.39" height="10.38" fill="#ff7300"/>
<rect x="1538.91" y="399.08" width="10.39" height="10.38" fill="#ff7300"/>
<rect x="1538.91" y="388.72" width="10.39" height="10.38" fill="#19d2f0"/>
<rect x="1538.91" y="378.35" width="10.39" height="10.38" fill="#ff7300"/>
<rect x="1538.91" y="367.99" width="10.39" height="10.38" fill="#ff4600"/>
<rect x="1538.91" y="357.63" width="10.39" height="10.38" fill="#19d2f0"/>
<rect x="1549.28" y="1424.92" width="10.39" height="10.38" fill="#19d2f0"/>
<rect x="1549.28" y="1238.40" width="10.39" height="10.38" fill="#ff7300"/>
<rect x="1549.28" y="461.25" width="10.39" height="10.38" fill="#19d2f0"/>
<rect x="1549.28" y="450.89" width="10.39" height="10.38" fill="#19d2f0"/>
<rect x="1549.28" y="440.53" width="10.39" height="10.38" fill="#ff4600"/>
<rect x="1549.28" y="430.16" width="10.39" height="10.38" fill="#ff7300"/>
<rect x="1549.28" y="419.80" width="10.39" height="10.38" fill="#19d2f0"/>
<rect x="1549.28" y="409.44" width="10.39" height="10.38" fill="#ff7300"/>
<rect x="1549.28" y="388.72" width="10.39" height="10.38" fill="#ff7300"/>
<rect x="1549.28" y="378.35" width="10.39" height="10.38" fill="#19d2f0"/>
<rect x="1549.28" y="367.99" width="10.39" height="10.38" fill="#ff7300"/>
<rect x="1549.28" y="357.63" width="10.39" height="10.38" fill="#ff4600"/>
<rect x="1549.28" y="347.27" width="10.39" height="10.38" fill="#19d2f0"/>
<rect x="1549.28" y="295.46" width="10.39" height="10.38" fill="#ffa000"/>
<rect x="1559.65" y="450.89" width="10.39" height="10.38" fill="#19d2f0"/>
<rect x="1559.65" y="440.53" width="10.39" height="10.38" fill="#19d2f0"/>
<rect x="1559.65" y="430.16" width="10.39" height="10.38" fill="#ff4600"/>
<rect x="1559.65" y="419.80" width="10.39" height="10.38" fill="#ff7300"/>
<rect x="1559.65" y="409.44" width="10.39" height="10.38" fill="#19d2f0"/>
<rect x="1559.65" y="399.08" width="10.39" height="10.38" fill="#ff7300"/>
<rect x="1559.65" y="378.35" width="10.39" height="10.38" fill="#ff7300"/>
<rect x="1559.65" y="367.99" width="10.39" height="10.38" fill="#19d2f0"/>
<rect x="1559.65" y="357.63" width="10.39" height="10.38" fill="#ff4600"/>
<rect x="1559.65" y="347.27" width="10.39" height="10.38" fill="#ff4600"/>
<rect x="1559.65" y="336.91" width="10.39" height="10.38" fill="#19d2f0"/>
<rect x="1570.01" y="430.16" width="10.39" height="10.38" fill="#19d2f0"/>
<rect x="1570.01" y="419.80" width="10.39" height="10.38" fill="#ff4600"/>
<rect x="1570.01" y="409.44" width="10.39" height="10.38" fill="#ff7300"/>
<rect x="1570.01" y="399.08" width="10.39" height="10.38" fill="#19d2f0"/>
<rect x="1570.01" y="388.72" width="10.39" height="10.38" fill="#ff7300"/>
<rect x="1570.01" y="367.99" width="10.39" height="10.38" fill="#ff7300"/>
<rect x="1570.01" y="357.63" width="10.39" height="10.38" fill="#19d2f0"/>
<rect x="1570.01" y="347.27" width="10.39" height="10.38" fill="#ff7300"/>
<rect x="1570.01" y="336.91" width="10.39" height="10.38" fill="#ff7300"/>
<rect x="1570.01" y="295.46" width="10.39" height="10.38" fill="#19d2f0"/>
<rect x="1580.38" y="1424.92" width="10.39" height="10.38" fill="#4a86c6"/>
<rect x="1580.38" y="430.16" width="10.39" height="10.38" fill="#19d2f0"/>
<rect x="1580.38" y="419.80" width="10.39" height="10.38" fill="#19d2f0"/>
<rect x="1580.38" y="409.44" width="10.39" height="10.38" fill="#ff4600"/>
<rect x="1580.38" y="399.08" width="10.39" height="10.38" fill="#ff7300"/>
<rect x="1580.38" y="388.72" width="10.39" height="10.38" fill="#19d2f0"/>
<rect x="1580.38" y="378.35" width="10.39" height="10.38" fill="#ff7300"/>
<rect x="1580.38" y="357.63" width="10.39" height="10.38" fill="#ff7300"/>
<rect x="1580.38" y="347.27" width="10.39" height="10.38" fill="#00faff"/>
<rect x="1580.38" y="336.91" width="10.39" height="10.38" fill="#ff7300"/>
<rect x="1580.38" y="326.54" width="10.39" height="10.38" fill="#ff7300"/>
<rect x="1580.38" y="316.18" width="10.39" height="10.38" fill="#19d2f0"/>
<rect x="1580.38" y="305.82" width="10.39" height="10.38" fill="#19d2f0"/>
<rect x="1580.38" y="295.46" width="10.39" height="10.38" fill="#ff4600"/>
<rect x="1580.38" y="285.10" width="10.39" height="10.38" fill="#ff7300"/>
<rect x="1580.38" y="264.37" width="10.39" height="10.38" fill="#ffa000"/>
<rect x="1590.74" y="419.80" width="10.39" height="10.38" fill="#19d2f0"/>
<rect x="1590.74" y="409.44" width="10.39" height="10.38" fill="#19d2f0"/>
<rect x="1590.74" y="399.08" width="10.39" height="10.38" fill="#ff4600"/>
<rect x="1590.74" y="388.72" width="10.39" height="10.38" fill="#ff4600"/>
<rect x="1590.74" y="378.35" width="10.39" height="10.38" fill="#19d2f0"/>
<rect x="1590.74" y="367.99" width="10.39" height="10.38" fill="#ff7300"/>
<rect x="1590.74" y="347.27" width="10.39" height="10.38" fill="#ff7300"/>
<rect x="1590.74" y="336.91" width="10.39" height="10.38" fill="#19d2f0"/>
<rect x="1590.74" y="326.54" width="10.39" height="10.38" fill="#19d2f0"/>
<rect x="1590.74" y="316.18" width="10.39" height="10.38" fill="#4a86c6"/>
<rect x="1590.74" y="305.82" width="10.39" height="10.38" fill="#19d2f0"/>
<rect x="1590.74" y="295.46" width="10.39" height="10.38" fill="#19d2f0"/>
<rect x="1590.74" y="285.10" width="10.39" height="10.38" fill="#19d2f0"/>
<rect x="1601.11" y="399.08" width="10.39" height="10.38" fill="#19d2f0"/>
<rect x="1601.11" y="388.72" width="10.39" height="10.38" fill="#ff4600"/>
<rect x="1601.11" y="378.35" width="10.39" height="10.38" fill="#ff7300"/>
<rect x="1601.11" y="367.99" width="10.39" height="10.38" fill="#00faff"/>
<rect x="1601.11" y="357.63" width="10.39" height="10.38" fill="#ff7300"/>
<rect x="1601.11" y="336.91" width="10.39" height="10.38" fill="#19d2f0"/>
<rect x="1601.11" y="326.54" width="10.39" height="10.38" fill="#ff7300"/>
<rect x="1601.11" y="316.18" width="10.39" height="10.38" fill="#00faff"/>
<rect x="1601.11" y="305.82" width="10.39" height="10.38" fill="#4a86c6"/>
<rect x="1601.11" y="295.46" width="10.39" height="10.38" fill="#19d2f0"/>
<rect x="1611.48" y="388.72" width="10.39" height="10.38" fill="#19d2f0"/>
<rect x="1611.48" y="378.35" width="10.39" height="10.38" fill="#ff7300"/>
<rect x="1611.48" y="367.99" width="10.39" height="10.38" fill="#ff7300"/>
<rect x="1611.48" y="357.63" width="10.39" height="10.38" fill="#19d2f0"/>
<rect x="1611.48" y="347.27" width="10.39" height="10.38" fill="#19d2f0"/>
<rect x="1611.48" y="326.54" width="10.39" height="10.38" fill="#ff0a00"/>
<rect x="1611.48" y="316.18" width="10.39" height="10.38" fill="#ffa000"/>
<rect x="1611.48" y="305.82" width="10.39" height="10.38" fill="#19d2f0"/>
<rect x="1611.48" y="295.46" width="10.39" height="10.38" fill="#ff7300"/>
<rect x="1611.48" y="285.10" width="10.39" height="10.38" fill="#ff4600"/>
<rect x="1621.84" y="367.99" width="10.39" height="10.38" fill="#ff7300"/>
<rect x="1621.84" y="357.63" width="10.39" height="10.38" fill="#19d2f0"/>
<rect x="1621.84" y="347.27" width="10.39" height="10.38" fill="#ff7300"/>
<rect x="1621.84" y="336.91" width="10.39" height="10.38" fill="#ff0a00"/>
<rect x="1621.84" y="316.18" width="10.39" height="10.38" fill="#19d2f0"/>
<rect x="1621.84" y="305.82" width="10.39" height="10.38" fill="#19d2f0"/>
<rect x="1621.84" y="295.46" width="10.39" height="10.38" fill="#ff7300"/>
<rect x="1621.84" y="285.10" width="10.39" height="10.38" fill="#ff0a00"/>
<rect x="1621.84" y="274.73" width="10.39" height="10.38" fill="#19d2f0"/>
<rect x="1621.84" y="264.37" width="10.39" height="10.38" fill="#19d2f0"/>
<rect x="1632.21" y="367.99" width="10.39" height="10.38" fill="#19d2f0"/>
<rect x="1632.21" y="357.63" width="10.39" height="10.38" fill="#4a86c6"/>
<rect x="1632.21" y="347.27" width="10.39" height="10.38" fill="#00faff"/>
<rect x="1632.21" y="336.91" width="10.39" height="10.38" fill="#ffa000"/>
<rect x="1632.21" y="326.54" width="10.39" height="10.38" fill="#19d2f0"/>
<rect x="1632.21" y="305.82" width="10.39" height="10.38" fill="#19d2f0"/>
<rect x="1632.21" y="295.46" width="10.39" height="10.38" fill="#19d2f0"/>
<rect x="1632.21" y="285.10" width="10.39" height="10.38" fill="#ff7300"/>
<rect x="1632.21" y="274.73" width="10.39" height="10.38" fill="#ff4600"/>
<rect x="1632.21" y="264.37" width="10.39" height="10.38" fill="#19d2f0"/>
<rect x="1642.57" y="367.99" width="10.39" height="10.38" fill="#19d2f0"/>
<rect x="1642.57" y="357.63" width="10.39" height="10.38" fill="#19d2f0"/>
<rect x="1642.57" y="347.27" width="10.39" height="10.38" fill="#4a86c6"/>
<rect x="1642.57" y="336.91" width="10.39" height="10.38" fill="#19d2f0"/>
<rect x="1642.57" y="326.54" width="10.39" height="10.38" fill="#19d2f0"/>
<rect x="1642.57" y="316.18" width="10.39" height="10.38" fill="#19d2f0"/>
<rect x="1642.57" y="295.46" width="10.39" height="10.38" fill="#ff7300"/>
<rect x="1642.57" y="285.10" width="10.39" height="10.38" fill="#19d2f0"/>
<rect x="1642.57" y="274.73" width="10.39" height="10.38" fill="#ff7300"/>
<rect x="1642.57" y="264.37" width="10.39" height="10.38" fill="#ff4600"/>
<rect x="1642.57" y="254.01" width="10.39" height="10.38" fill="#19d2f0"/>
<rect x="1652.94" y="399.08" width="10.39" height="10.38" fill="#ffa000"/>
<rect x="1652.94" y="378.35" width="10.39" height="10.38" fill="#19d2f0"/>
<rect x="1652.94" y="367.99" width="10.39" height="10.38" fill="#ff4600"/>
<rect x="1652.94" y="357.63" width="10.39" height="10.38" fill="#19d2f0"/>
<rect x="1652.94" y="347.27" width="10.39" height="10.38" fill="#19d2f0"/>
<rect x="1652.94" y="336.91" width="10.39" height="10.38" fill="#ff7300"/>
<rect x="1652.94" y="326.54" width="10.39" height="10.38" fill="#ff7300"/>
<rect x="1652.94" y="316.18" width="10.39" height="10.38" fill="#19d2f0"/>
<rect x="1652.94" y="305.82" width="10.39" height="10.38" fill="#ff7300"/>
<rect x="1652.94" y="285.10" width="10.39" height="10.38" fill="#ff7300"/>
<rect x="1652.94" y="274.73" width="10.39" height="10.38" fill="#19d2f0"/>
<rect x="1652.94" y="264.37" width="10.39" height="10.38" fill="#ff7300"/>
<rect x="1652.94" y="254.01" width="10.39" height="10.38" fill="#ff4600"/>
<rect x="1652.94" y="243.65" width="10.39" height="10.38" fill="#19d2f0"/>
<rect x="1663.31" y="367.99" width="10.39" height="10.38" fill="#ff7300"/>
<rect x="1663.31" y="357.63" width="10.39" height="10.38" fill="#19d2f0"/>
<rect x="1663.31" y="336.91" width="10.39" height="10.38" fill="#ff4600"/>
<rect x="1663.31" y="326.54" width="10.39" height="10.38" fill="#ff0a00"/>
<rect x="1663.31" y="316.18" width="10.39" height="10.38" fill="#ff7300"/>
<rect x="1663.31" y="305.82" width="10.39" height="10.38" fill="#19d2f0"/>
<rect x="1663.31" y="295.46" width="10.39" height="10.38" fill="#ff7300"/>
<rect x="1663.31" y="274.73" width="10.39" height="10.38" fill="#ff7300"/>
<rect x="1663.31" y="264.37" width="10.39" height="10.38" fill="#19d2f0"/>
<rect x="1663.31" y="254.01" width="10.39" height="10.38" fill="#ff7300"/>
<rect x="1663.31" y="243.65" width="10.39" height="10.38" fill="#ff4600"/>
<rect x="1663.31" y="233.29" width="10.39" height="10.38" fill="#19d2f0"/>
<rect x="1673.67" y="1217.68" width="10.39" height="10.38" fill="#19d2f0"/>
<rect x="1673.67" y="326.54" width="10.39" height="10.38" fill="#19d2f0"/>
<rect x="1673.67" y="316.18" width="10.39" height="10.38" fill="#ff4600"/>
<rect x="1673.67" y="305.82" width="10.39" height="10.38" fill="#ff7300"/>
<rect x="1673.67" y="295.46" width="10.39" height="10.38" fill="#19d2f0"/>
<rect x="1673.67" y="285.10" width="10.39" height="10.38" fill="#ff7300"/>
<rect x="1673.67" y="264.37" width="10.39" height="10.38" fill="#19d2f0"/>
<rect x="1673.67" y="254.01" width="10.39" height="10.38" fill="#19d2f0"/>
<rect x="1673.67" y="243.65" width="10.39" height="10.38" fill="#ff4600"/>
<rect x="1673.67" y="233.29" width="10.39" height="10.38" fill="#ff4600"/>
<rect x="1673.67" y="222.92" width="10.39" height="10.38" fill="#19d2f0"/>
<rect x="1673.67" y="212.56" width="10.39" height="10.38" fill="#19d2f0"/>
<rect x="1684.04" y="1435.28" width="10.39" height="10.38" fill="#ffa000"/>
<rect x="1684.04" y="1238.40" width="10.39" height="10.38" fill="#19d2f0"/>
<rect x="1684.04" y="1228.04" width="10.39" height="10.38" fill="#19d2f0"/>
<rect x="1684.04" y="1217.68" width="10.39" height="10.38" fill="#19d2f0"/>
<rect x="1684.04" y="367.99" width="10.39" height="10.38" fill="#ffa000"/>
<rect x="1684.04" y="326.54" width="10.39" height="10.38" fill="#19d2f0"/>
<rect x="1684.04" y="316.18" width="10.39" height="10.38" fill="#19d2f0"/>
<rect x="1684.04" y="305.82" width="10.39" height="10.38" fill="#ff4600"/>
<rect x="1684.04" y="295.46" width="10.39" height="10.38" fill="#ff7300"/>
<rect x="1684.04" y="285.10" width="10.39" height="10.38" fill="#19d2f0"/>
<rect x="1684.04" y="274.73" width="10.39" height="10.38" fill="#19d2f0"/>
<rect x="1684.04" y="254.01" width="10.39" height="10.38" fill="#ff7300"/>
<rect x="1684.04" y="243.65" width="10.39" height="10.38" fill="#19d2f0"/>
<rect x="1684.04" y="233.29" width="10.39" height="10.38" fill="#ff7300"/>
<rect x="1684.04" y="222.92" width="10.39" height="10.38" fill="#ff4600"/>
<rect x="1684.04" y="212.56" width="10.39" height="10.38" fill="#ff7300"/>
<rect x="1694.40" y="305.82" width="10.39" height="10.38" fill="#19d2f0"/>
<rect x="1694.40" y="295.46" width="10.39" height="10.38" fill="#ff4600"/>
<rect x="1694.40" y="285.10" width="10.39" height="10.38" fill="#ff7300"/>
<rect x="1694.40" y="274.73" width="10.39" height="10.38" fill="#19d2f0"/>
<rect x="1694.40" y="264.37" width="10.39" height="10.38" fill="#ff7300"/>
<rect x="1694.40" y="243.65" width="10.39" height="10.38" fill="#19d2f0"/>
<rect x="1694.40" y="233.29" width="10.39" height="10.38" fill="#19d2f0"/>
<rect x="1694.40" y="222.92" width="10.39" height="10.38" fill="#ff7300"/>
<rect x="1694.40" y="212.56" width="10.39" height="10.38" fill="#ff4600"/>
<rect x="1694.40" y="202.20" width="10.39" height="10.38" fill="#19d2f0"/>
<rect x="1694.40" y="191.84" width="10.39" height="10.38" fill="#19d2f0"/>
<rect x="1694.40" y="181.48" width="10.39" height="10.38" fill="#ff7300"/>
<rect x="1704.77" y="295.46" width="10.39" height="10.38" fill="#19d2f0"/>
<rect x="1704.77" y="285.10" width="10.39" height="10.38" fill="#ff4600"/>
<rect x="1704.77" y="274.73" width="10.39" height="10.38" fill="#ff4600"/>
<rect x="1704.77" y="264.37" width="10.39" height="10.38" fill="#19d2f0"/>
<rect x="1704.77" y="254.01" width="10.39" height="10.38" fill="#19d2f0"/>
<rect x="1704.77" y="233.29" width="10.39" height="10.38" fill="#ff7300"/>
<rect x="1704.77" y="222.92" width="10.39" height="10.38" fill="#19d2f0"/>
<rect x="1704.77" y="212.56" width="10.39" height="10.38" fill="#00faff"/>
<rect x="1704.77" y="202.20" width="10.39" height="10.38" fill="#ff7300"/>
<rect x="1715.14" y="1228.04" width="10.39" height="10.38" fill="#32aadc"/>
<rect x="1715.14" y="1217.68" width="10.39" height="10.38" fill="#19d2f0"/>
<rect x="1715.14" y="1207.31" width="10.39" height="10.38" fill="#ff7300"/>
<rect x="1715.14" y="1196.95" width="10.39" height="10.38" fill="#ff4600"/>
<rect x="1715.14" y="285.10" width="10.39" height="10.38" fill="#19d2f0"/>
<rect x="1715.14" y="274.73" width="10.39" height="10.38" fill="#ff4600"/>
<rect x="1715.14" y="264.37" width="10.39" height="10.38" fill="#ff7300"/>
<rect x="1715.14" y="254.01" width="10.39" height="10.38" fill="#19d2f0"/>
<rect x="1715.14" y="243.65" width="10.39" height="10.38" fill="#ff7300"/>
<rect x="1715.14" y="222.92" width="10.39" height="10.38" fill="#19d2f0"/>
<rect x="1715.14" y="212.56" width="10.39" height="10.38" fill="#00faff"/>
<rect x="1715.14" y="202.20" width="10.39" height="10.38" fill="#ff0a00"/>
<rect x="1715.14" y="191.84" width="10.39" height="10.38" fill="#ff7300"/>
<rect x="1725.50" y="1228.04" width="10.39" height="10.38" fill="#19d2f0"/>
<rect x="1725.50" y="1217.68" width="10.39" height="10.38" fill="#00faff"/>
<rect x="1725.50" y="1207.31" width="10.39" height="10.38" fill="#ff7300"/>
<rect x="1725.50" y="1196.95" width="10.39" height="10.38" fill="#ff7300"/>
<rect x="1725.50" y="823.92" width="10.39" height="10.38" fill="#19d2f0"/>
<rect x="1725.50" y="274.73" width="10.39" height="10.38" fill="#19d2f0"/>
<rect x="1725.50" y="264.37" width="10.39" height="10.38" fill="#ff4600"/>
<rect x="1725.50" y="254.01" width="10.39" height="10.38" fill="#ff7300"/>
<rect x="1725.50" y="243.65" width="10.39" height="10.38" fill="#19d2f0"/>
<rect x="1725.50" y="233.29" width="10.39" height="10.38" fill="#19d2f0"/>
<rect x="1725.50" y="212.56" width="10.39" height="10.38" fill="#ff7300"/>
<rect x="1725.50" y="202.20" width="10.39" height="10.38" fill="#00faff"/>
<rect x="1725.50" y="191.84" width="10.39" height="10.38" fill="#ff7300"/>
<rect x="1725.50" y="181.48" width="10.39" height="10.38" fill="#ff4600"/>
<rect x="1725.50" y="171.11" width="10.39" height="10.38" fill="#ff7300"/>
<rect x="1735.87" y="274.73" width="10.39" height="10.38" fill="#19d2f0"/>
<rect x="1735.87" y="264.37" width="10.39" height="10.38" fill="#ff7300"/>
<rect x="1735.87" y="254.01" width="10.39" height="10.38" fill="#ff4600"/>
<rect x="1735.87" y="243.65" width="10.39" height="10.38" fill="#00faff"/>
<rect x="1735.87" y="233.29" width="10.39" height="10.38" fill="#00faff"/>
<rect x="1735.87" y="222.92" width="10.39" height="10.38" fill="#ff7300"/>
<rect x="1735.87" y="202.20" width="10.39" height="10.38" fill="#ff7300"/>
<rect x="1735.87" y="191.84" width="10.39" height="10.38" fill="#19d2f0"/>
<rect x="1735.87" y="181.48" width="10.39" height="10.38" fill="#ff7300"/>
<rect x="1735.87" y="171.11" width="10.39" height="10.38" fill="#ff4600"/>
<rect x="1735.87" y="160.75" width="10.39" height="10.38" fill="#19d2f0"/>
<rect x="1746.23" y="254.01" width="10.39" height="10.38" fill="#19d2f0"/>
<rect x="1746.23" y="243.65" width="10.39" height="10.38" fill="#ff7300"/>
<rect x="1746.23" y="233.29" width="10.39" height="10.38" fill="#ff0a00"/>
<rect x="1746.23" y="222.92" width="10.39" height="10.38" fill="#00faff"/>
<rect x="1746.23" y="212.56" width="10.39" height="10.38" fill="#ff7300"/>
<rect x="1746.23" y="191.84" width="10.39" height="10.38" fill="#ff7300"/>
<rect x="1746.23" y="181.48" width="10.39" height="10.38" fill="#19d2f0"/>
<rect x="1746.23" y="171.11" width="10.39" height="10.38" fill="#ff7300"/>
<rect x="1746.23" y="160.75" width="10.39" height="10.38" fill="#ff4600"/>
<rect x="1746.23" y="150.39" width="10.39" height="10.38" fill="#ff7300"/>
<rect x="1756.60" y="844.64" width="10.39" height="10.38" fill="#19d2f0"/>
<rect x="1756.60" y="834.28" width="10.39" height="10.38" fill="#19d2f0"/>
<rect x="1756.60" y="823.92" width="10.39" height="10.38" fill="#19d2f0"/>
<rect x="1756.60" y="254.01" width="10.39" height="10.38" fill="#19d2f0"/>
<rect x="1756.60" y="233.29" width="10.39" height="10.38" fill="#ff7300"/>
<rect x="1756.60" y="222.92" width="10.39" height="10.38" fill="#ff7300"/>
<rect x="1756.60" y="212.56" width="10.39" height="10.38" fill="#19d2f0"/>
<rect x="1756.60" y="202.20" width="10.39" height="10.38" fill="#ff7300"/>
<rect x="1756.60" y="181.48" width="10.39" height="10.38" fill="#19d2f0"/>
<rect x="1756.60" y="171.11" width="10.39" height="10.38" fill="#19d2f0"/>
<rect x="1756.60" y="160.75" width="10.39" height="10.38" fill="#ff7300"/>
<rect x="1756.60" y="150.39" width="10.39" height="10.38" fill="#ff7300"/>
<rect x="1756.60" y="140.03" width="10.39" height="10.38" fill="#19d2f0"/>
<rect x="1766.97" y="844.64" width="10.39" height="10.38" fill="#19d2f0"/>
<rect x="1766.97" y="254.01" width="10.39" height="10.38" fill="#ff7300"/>
<rect x="1766.97" y="222.92" width="10.39" height="10.38" fill="#ff4600"/>
<rect x="1766.97" y="212.56" width="10.39" height="10.38" fill="#ff7300"/>
<rect x="1766.97" y="202.20" width="10.39" height="10.38" fill="#19d2f0"/>
<rect x="1766.97" y="191.84" width="10.39" height="10.38" fill="#19d2f0"/>
<rect x="1766.97" y="171.11" width="10.39" height="10.38" fill="#19d2f0"/>
<rect x="1766.97" y="160.75" width="10.39" height="10.38" fill="#19d2f0"/>
<rect x="1766.97" y="150.39" width="10.39" height="10.38" fill="#32aadc"/>
<rect x="1766.97" y="140.03" width="10.39" height="10.38" fill="#32aadc"/>
<rect x="1777.33" y="222.92" width="10.39" height="10.38" fill="#ff7300"/>
<rect x="1777.33" y="212.56" width="10.39" height="10.38" fill="#ff4600"/>
<rect x="1777.33" y="202.20" width="10.39" height="10.38" fill="#ff7300"/>
<rect x="1777.33" y="191.84" width="10.39" height="10.38" fill="#19d2f0"/>
<rect x="1777.33" y="181.48" width="10.39" height="10.38" fill="#19d2f0"/>
<rect x="1777.33" y="160.75" width="10.39" height="10.38" fill="#19d2f0"/>
<rect x="1777.33" y="150.39" width="10.39" height="10.38" fill="#19d2f0"/>
<rect x="1777.33" y="140.03" width="10.39" height="10.38" fill="#ff7300"/>
<rect x="1787.70" y="844.64" width="10.39" height="10.38" fill="#19d2f0"/>
<rect x="1787.70" y="212.56" width="10.39" height="10.38" fill="#19d2f0"/>
<rect x="1787.70" y="202.20" width="10.39" height="10.38" fill="#ff4600"/>
<rect x="1787.70" y="191.84" width="10.39" height="10.38" fill="#ff7300"/>
<rect x="1787.70" y="181.48" width="10.39" height="10.38" fill="#19d2f0"/>
<rect x="1787.70" y="171.11" width="10.39" height="10.38" fill="#19d2f0"/>
<rect x="1787.70" y="150.39" width="10.39" height="10.38" fill="#ff7300"/>
<rect x="1787.70" y="140.03" width="10.39" height="10.38" fill="#ff7300"/>
<rect x="1787.70" y="129.67" width="10.39" height="10.38" fill="#ff7300"/>
<rect x="1798.06" y="844.64" width="10.39" height="10.38" fill="#19d2f0"/>
<rect x="1798.06" y="202.20" width="10.39" height="10.38" fill="#ff7300"/>
<rect x="1798.06" y="191.84" width="10.39" height="10.38" fill="#ff7300"/>
<rect x="1798.06" y="181.48" width="10.39" height="10.38" fill="#32aadc"/>
<rect x="1798.06" y="171.11" width="10.39" height="10.38" fill="#19d2f0"/>
<rect x="1798.06" y="160.75" width="10.39" height="10.38" fill="#ff7300"/>
<rect x="1798.06" y="140.03" width="10.39" height="10.38" fill="#ff7300"/>
<rect x="1798.06" y="129.67" width="10.39" height="10.38" fill="#ffa000"/>
<rect x="1808.43" y="191.84" width="10.39" height="10.38" fill="#19d2f0"/>
<rect x="1808.43" y="181.48" width="10.39" height="10.38" fill="#32aadc"/>
<rect x="1808.43" y="171.11" width="10.39" height="10.38" fill="#ff7300"/>
<rect x="1808.43" y="160.75" width="10.39" height="10.38" fill="#ff7300"/>
<rect x="1808.43" y="150.39" width="10.39" height="10.38" fill="#ff7300"/>
<rect x="1808.43" y="129.67" width="10.39" height="10.38" fill="#ff7300"/>
<rect x="1808.43" y="119.30" width="10.39" height="10.38" fill="#19d2f0"/>
<rect x="1818.80" y="160.75" width="10.39" height="10.38" fill="#ff7300"/>
<rect x="1818.80" y="150.39" width="10.39" height="10.38" fill="#ffa000"/>
<rect x="1818.80" y="140.03" width="10.39" height="10.38" fill="#ff7300"/>
<rect x="1818.80" y="119.30" width="10.39" height="10.38" fill="#ff7300"/>
<rect x="1829.16" y="140.03" width="10.39" height="10.38" fill="#19d2f0"/>
<rect x="1829.16" y="129.67" width="10.39" height="10.38" fill="#ff7300"/>
</g>
<g shape-rendering="geometricPrecision" stroke="#000" fill="none" stroke-linecap="round" stroke-linejoin="round">
<rect x="202.2" y="119.3" width="1637.3" height="1637.2" stroke-width="5.8"/>
<path d="M714.8 119.3V113.8 M1233.1 119.3V113.8 M1751.4 119.3V113.8" stroke-width="5.6"/>
<path d="M714.8 1756.5V1762.2 M1233.1 1756.5V1762.2 M1751.4 1756.5V1762.2" stroke-width="5.6"/>
<path d="M202.2 1243.6H196 M202.2 725.5H196 M202.2 207.4H196" stroke-width="5.6"/>
<path d="M1839.5 1243.6H1844.5 M1839.5 725.5H1844.5 M1839.5 207.4H1844.5" stroke-width="5.6"/>
</g>
<g>
<rect x="1862" y="1654.17" width="12.2" height="102.62" fill="#ff0000"/>
<rect x="1862" y="1551.85" width="12.2" height="102.62" fill="#ff1b00"/>
<rect x="1862" y="1449.53" width="12.2" height="102.62" fill="#ff3700"/>
<rect x="1862" y="1347.20" width="12.2" height="102.62" fill="#ff5200"/>
<rect x="1862" y="1244.88" width="12.2" height="102.62" fill="#ff6e00"/>
<rect x="1862" y="1142.55" width="12.2" height="102.62" fill="#ff8900"/>
<rect x="1862" y="1040.22" width="12.2" height="102.62" fill="#ffa500"/>
<rect x="1862" y="937.90" width="12.2" height="102.62" fill="#00ffff"/>
<rect x="1862" y="835.57" width="12.2" height="102.62" fill="#10e8f8"/>
<rect x="1862" y="733.25" width="12.2" height="102.62" fill="#1ed2f0"/>
<rect x="1862" y="630.92" width="12.2" height="102.62" fill="#2abee6"/>
<rect x="1862" y="528.60" width="12.2" height="102.62" fill="#34acdc"/>
<rect x="1862" y="426.27" width="12.2" height="102.62" fill="#3e9bd2"/>
<rect x="1862" y="323.95" width="12.2" height="102.62" fill="#488ac8"/>
<rect x="1862" y="221.62" width="12.2" height="102.62" fill="#5078be"/>
<rect x="1862" y="119.3" width="12.2" height="102.9" fill="#fff"/>
</g>
<g shape-rendering="geometricPrecision" stroke="#000" fill="none" stroke-linecap="round" stroke-linejoin="round">
<rect x="1862.0" y="119.3" width="12.2" height="1637.2" stroke-width="5.6"/>
<path d="M1874.2 1697.1H1878.6 M1874.2 1286.5H1878.6 M1874.2 876H1878.6 M1874.2 465.5H1878.6" stroke-width="5.6"/>
</g>
<g shape-rendering="geometricPrecision">
<g transform="translate(714.8,1811.7) scale(0.94,1)"><text font-size="63.4" text-anchor="middle">50</text></g>
<g transform="translate(1233.1,1811.7) scale(0.94,1)"><text font-size="63.4" text-anchor="middle">100</text></g>
<g transform="translate(1751.4,1811.7) scale(0.94,1)"><text font-size="63.4" text-anchor="middle">150</text></g>
<g transform="translate(1020.75,1867.6) scale(0.9415,1)"><text font-size="63.3" text-anchor="middle">Residue index</text></g>
<g transform="translate(191,1266) scale(0.94,1)"><text font-size="63.4" text-anchor="end">50</text></g>
<g transform="translate(191,748) scale(0.94,1)"><text font-size="63.4" text-anchor="end">100</text></g>
<g transform="translate(191,229.6) scale(0.94,1)"><text font-size="63.4" text-anchor="end">150</text></g>
<g transform="translate(79.3,936.8) rotate(-90) scale(0.9415,1)"><text font-size="63.3" text-anchor="middle">Residue index</text></g>
<g transform="translate(1883.3,1715.2) scale(0.94,1)"><text font-size="50.8">0</text></g>
<g transform="translate(1883.3,1304.7) scale(0.94,1)"><text font-size="50.8">50</text></g>
<g transform="translate(1883.3,894.2) scale(0.94,1)"><text font-size="50.8">100</text></g>
<g transform="translate(1883.3,484.5) scale(0.94,1)"><text font-size="50.8">150</text></g>
</g>
</svg>
</body></html>
